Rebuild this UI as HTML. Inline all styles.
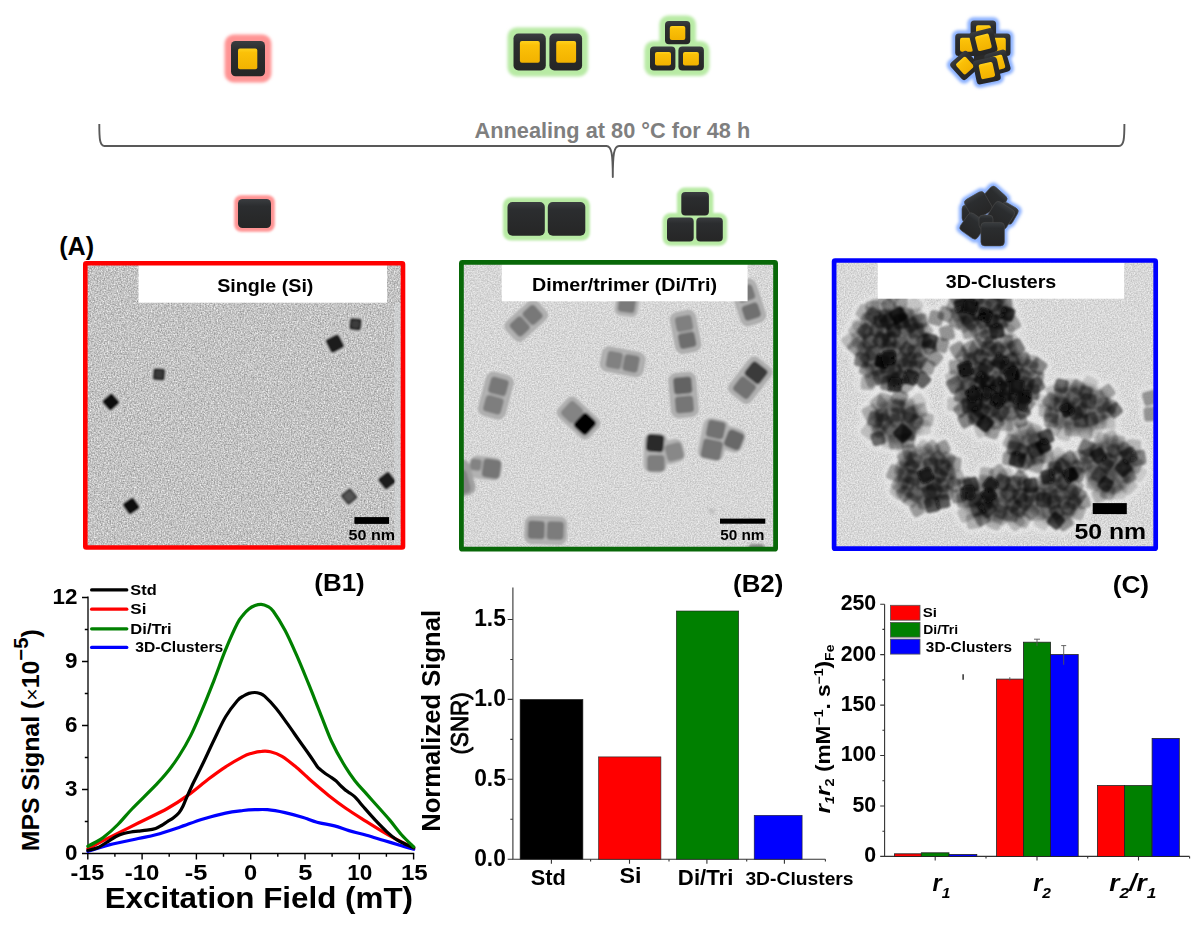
<!DOCTYPE html>
<html><head><meta charset="utf-8"><title>Figure</title>
<style>
html,body{margin:0;padding:0;background:#fff;}
svg{display:block;}
text{font-family:"Liberation Sans",sans-serif;}
</style></head><body>
<svg width="1204" height="927" viewBox="0 0 1204 927">
<defs>
<linearGradient id="gd" x1="0" y1="0" x2="0" y2="1"><stop offset="0" stop-color="#3a3d40"/><stop offset="0.25" stop-color="#2b2d2f"/><stop offset="1" stop-color="#262626"/></linearGradient>
<linearGradient id="gy" x1="0" y1="0" x2="0" y2="1"><stop offset="0" stop-color="#ffd21e"/><stop offset="0.2" stop-color="#fbc108"/><stop offset="1" stop-color="#f2b200"/></linearGradient>
<filter id="b3" x="-40%" y="-40%" width="180%" height="180%"><feGaussianBlur stdDeviation="2.6"/></filter>
<filter id="b2" x="-40%" y="-40%" width="180%" height="180%"><feGaussianBlur stdDeviation="1.8"/></filter>
<filter id="b06" x="-20%" y="-20%" width="140%" height="140%"><feGaussianBlur stdDeviation="0.95"/></filter>
<filter id="b05" x="-20%" y="-20%" width="140%" height="140%"><feGaussianBlur stdDeviation="0.5"/></filter>
<filter id="b07" x="-20%" y="-20%" width="140%" height="140%"><feGaussianBlur stdDeviation="0.8"/></filter>
<filter id="b13" x="-40%" y="-40%" width="180%" height="180%"><feGaussianBlur stdDeviation="1.3"/></filter>
<filter id="b12" x="-20%" y="-20%" width="140%" height="140%"><feGaussianBlur stdDeviation="1.3"/></filter>
<filter id="b25" x="-30%" y="-30%" width="160%" height="160%"><feGaussianBlur stdDeviation="2.5"/></filter>
<filter id="noise" x="0" y="0" width="100%" height="100%">
<feTurbulence type="fractalNoise" baseFrequency="0.75" numOctaves="2" seed="7" result="n"/>
<feColorMatrix in="n" type="matrix" values="0 0 0 0 0  0 0 0 0 0  0 0 0 0 0  1.6 0 0 0 -0.62"/>
</filter>
<filter id="noisew" x="0" y="0" width="100%" height="100%">
<feTurbulence type="fractalNoise" baseFrequency="0.75" numOctaves="2" seed="11" result="n"/>
<feColorMatrix in="n" type="matrix" values="0 0 0 0 1  0 0 0 0 1  0 0 0 0 1  0 1.6 0 0 -0.62"/>
</filter>
</defs>
<rect width="1204" height="927" fill="#fff"/>

<g filter="url(#b2)"><rect x="224.6" y="34.6" width="46.8" height="47.8" rx="9" fill="#ff9494" transform="rotate(0 248.0 58.5)"/></g>
<g transform="rotate(0 248.0 58.6)"><rect x="231.0" y="41.0" width="34.0" height="35.3" rx="4.5" fill="url(#gd)"/><rect x="238.0" y="48.4" width="19.3" height="20.9" rx="2" fill="url(#gy)"/></g>
<g filter="url(#b2)"><rect x="507.5" y="27.5" width="80.6" height="48.9" rx="9" fill="#b8eaa4" transform="rotate(0 547.8 52.0)"/></g>
<g transform="rotate(0 529.6 52.0)"><rect x="513.5" y="33.5" width="32.3" height="36.9" rx="5" fill="url(#gd)"/><rect x="519.9" y="40.9" width="19.9" height="21.9" rx="2" fill="url(#gy)"/></g>
<g transform="rotate(0 565.8 52.0)"><rect x="549.4" y="33.5" width="32.7" height="36.9" rx="5" fill="url(#gd)"/><rect x="556.2" y="40.9" width="19.9" height="21.9" rx="2" fill="url(#gy)"/></g>
<g filter="url(#b2)"><rect x="659.4" y="15.4" width="36.5" height="34.5" rx="9" fill="#b8eaa4" transform="rotate(0 677.6 32.6)"/><rect x="644.4" y="40.9" width="65.1" height="35.1" rx="9" fill="#b8eaa4" transform="rotate(0 677.0 58.5)"/></g>
<g transform="rotate(0 677.6 32.6)"><rect x="665.0" y="21.0" width="25.3" height="23.3" rx="4" fill="url(#gd)"/><rect x="669.8" y="26.0" width="15.5" height="13.9" rx="2" fill="url(#gy)"/></g>
<g transform="rotate(0 662.7 58.5)"><rect x="650.0" y="46.5" width="25.4" height="23.9" rx="4" fill="url(#gd)"/><rect x="655.0" y="51.9" width="16.0" height="13.5" rx="2" fill="url(#gy)"/></g>
<g transform="rotate(0 691.1 58.5)"><rect x="678.4" y="46.5" width="25.5" height="23.9" rx="4" fill="url(#gd)"/><rect x="683.0" y="51.9" width="15.9" height="13.5" rx="2" fill="url(#gy)"/></g>
<g filter="url(#b2)"><rect x="967.4" y="17.3" width="31.9" height="31.9" rx="6" fill="#8db2ff" transform="rotate(0 983.4 33.2)"/><rect x="952.0" y="30.3" width="28.9" height="28.9" rx="6" fill="#8db2ff" transform="rotate(0 966.5 44.8)"/><rect x="984.8" y="30.3" width="28.9" height="28.9" rx="6" fill="#8db2ff" transform="rotate(0 999.3 44.8)"/><rect x="967.9" y="26.8" width="30.9" height="30.9" rx="6" fill="#8db2ff" transform="rotate(-14 983.4 42.3)"/><rect x="950.3" y="51.0" width="28.9" height="28.9" rx="6" fill="#8db2ff" transform="rotate(-42 964.8 65.5)"/><rect x="983.0" y="48.3" width="28.9" height="28.9" rx="6" fill="#8db2ff" transform="rotate(-16 997.5 62.8)"/><rect x="971.4" y="55.1" width="30.9" height="30.9" rx="6" fill="#8db2ff" transform="rotate(-12 986.9 70.6)"/></g>
<g transform="rotate(0 983.4 33.2)"><rect x="970.6" y="20.5" width="25.5" height="25.5" rx="3.5" fill="url(#gd)"/><rect x="976.0" y="25.3" width="14.8" height="15.8" rx="2" fill="url(#gy)"/></g>
<g transform="rotate(0 966.5 44.8)"><rect x="955.2" y="33.5" width="22.5" height="22.5" rx="3.5" fill="url(#gd)"/><rect x="960.0" y="37.8" width="13.0" height="14.0" rx="2" fill="url(#gy)"/></g>
<g transform="rotate(0 999.3 44.8)"><rect x="988.0" y="33.5" width="22.5" height="22.5" rx="3.5" fill="url(#gd)"/><rect x="992.8" y="37.8" width="13.0" height="14.0" rx="2" fill="url(#gy)"/></g>
<rect x="974" y="46" width="20" height="18" fill="#2a2a2a"/>
<g transform="rotate(-14 983.4 42.3)"><rect x="971.1" y="30.0" width="24.5" height="24.5" rx="3.5" fill="url(#gd)"/><rect x="976.3" y="34.7" width="14.2" height="15.2" rx="2" fill="url(#gy)"/></g>
<g transform="rotate(-42 964.8 65.5)"><rect x="953.5" y="54.2" width="22.5" height="22.5" rx="3.5" fill="url(#gd)"/><rect x="958.3" y="58.5" width="13.0" height="14.1" rx="2" fill="url(#gy)"/></g>
<g transform="rotate(-16 997.5 62.8)"><rect x="986.2" y="51.5" width="22.5" height="22.5" rx="3.5" fill="url(#gd)"/><rect x="991.0" y="55.8" width="13.0" height="14.1" rx="2" fill="url(#gy)"/></g>
<g transform="rotate(-12 986.9 70.6)"><rect x="974.6" y="58.3" width="24.5" height="24.5" rx="3.5" fill="url(#gd)"/><rect x="979.8" y="63.0" width="14.2" height="15.2" rx="2" fill="url(#gy)"/></g>
<path d="M99.3 124 C99.3 138 99.6 146 104.5 146 L606.5 146 C611.6 146 612.8 154 612.8 177 C612.8 154 614 146 619 146 L1119 146 C1124 146 1124.4 138 1124.4 124" fill="none" stroke="#595959" stroke-width="1.9" stroke-linejoin="round"/>
<text x="474.56" y="137.7" font-size="22" font-weight="bold" fill="#7f7f7f" text-anchor="start" textLength="275.68" lengthAdjust="spacingAndGlyphs" >Annealing at 80 °C for 48 h</text>
<g filter="url(#b13)"><rect x="234.2" y="195.2" width="40.6" height="36.6" rx="7" fill="#ff9494" transform="rotate(0 254.5 213.5)"/></g>
<g transform="rotate(0 254.5 213.5)"><rect x="238.0" y="199.0" width="33.0" height="29.0" rx="4.5" fill="url(#gd)"/></g>
<g filter="url(#b13)"><rect x="502.9" y="197.4" width="87.0" height="43.2" rx="8" fill="#b8eaa4" transform="rotate(0 546.4 219.0)"/></g>
<g transform="rotate(0 526.1 218.9)"><rect x="507.5" y="202.0" width="37.3" height="33.8" rx="5" fill="url(#gd)"/></g>
<g transform="rotate(0 566.5 218.9)"><rect x="547.8" y="202.0" width="37.5" height="33.8" rx="5" fill="url(#gd)"/></g>
<g filter="url(#b13)"><rect x="676.9" y="187.6" width="36.4" height="32.2" rx="8" fill="#b8eaa4" transform="rotate(0 695.1 203.7)"/><rect x="662.6" y="213.0" width="64.6" height="32.8" rx="8" fill="#b8eaa4" transform="rotate(0 694.9 229.4)"/></g>
<g transform="rotate(0 695.1 203.7)"><rect x="681.3" y="192.0" width="27.6" height="23.4" rx="4" fill="url(#gd)"/></g>
<g transform="rotate(0 680.4 229.4)"><rect x="667.0" y="217.4" width="26.7" height="24.0" rx="4" fill="url(#gd)"/></g>
<g transform="rotate(0 709.5 229.4)"><rect x="696.3" y="217.4" width="26.5" height="24.0" rx="4" fill="url(#gd)"/></g>
<g filter="url(#b2)"><rect x="980.1" y="185.8" width="27.4" height="27.4" rx="6" fill="#8db2ff" transform="rotate(42 993.8 199.5)"/><rect x="958.8" y="201.8" width="23.4" height="23.4" rx="6" fill="#8db2ff" transform="rotate(0 970.5 213.5)"/><rect x="964.0" y="191.1" width="28.9" height="28.9" rx="6" fill="#8db2ff" transform="rotate(-30 978.5 205.5)"/><rect x="995.1" y="201.1" width="24.4" height="24.4" rx="6" fill="#8db2ff" transform="rotate(30 1007.3 213.3)"/><rect x="959.3" y="212.3" width="27.4" height="27.4" rx="6" fill="#8db2ff" transform="rotate(35 973.0 226.0)"/><rect x="986.1" y="201.1" width="28.9" height="28.9" rx="6" fill="#8db2ff" transform="rotate(32 1000.6 215.5)"/><rect x="975.8" y="211.8" width="20.4" height="20.4" rx="6" fill="#8db2ff" transform="rotate(0 986.0 222.0)"/><rect x="977.6" y="219.2" width="29.9" height="29.9" rx="6" fill="#8db2ff" transform="rotate(0 992.6 234.2)"/></g>
<g transform="rotate(42 993.8 199.5)"><rect x="983.3" y="189.0" width="21" height="21" rx="4" fill="url(#gd)" stroke="#4a4a4a" stroke-width="0.6"/></g>
<g transform="rotate(0 970.5 213.5)"><rect x="962.0" y="205.0" width="17" height="17" rx="4" fill="url(#gd)" stroke="#4a4a4a" stroke-width="0.6"/></g>
<g transform="rotate(-30 978.5 205.5)"><rect x="967.2" y="194.2" width="22.5" height="22.5" rx="4" fill="url(#gd)" stroke="#4a4a4a" stroke-width="0.6"/></g>
<g transform="rotate(30 1007.3 213.3)"><rect x="998.3" y="204.3" width="18" height="18" rx="4" fill="url(#gd)" stroke="#4a4a4a" stroke-width="0.6"/></g>
<g transform="rotate(35 973 226)"><rect x="962.5" y="215.5" width="21" height="21" rx="4" fill="url(#gd)" stroke="#4a4a4a" stroke-width="0.6"/></g>
<g transform="rotate(32 1000.6 215.5)"><rect x="989.4" y="204.2" width="22.5" height="22.5" rx="4" fill="url(#gd)" stroke="#4a4a4a" stroke-width="0.6"/></g>
<g transform="rotate(0 986 222)"><rect x="979.0" y="215.0" width="14" height="14" rx="4" fill="url(#gd)" stroke="#4a4a4a" stroke-width="0.6"/></g>
<g transform="rotate(0 992.6 234.2)"><rect x="980.9" y="222.4" width="23.5" height="23.5" rx="4" fill="url(#gd)" stroke="#4a4a4a" stroke-width="0.6"/></g>
<text x="59.25" y="255.4" font-size="25" font-weight="bold" fill="#000" text-anchor="start" textLength="34.9" lengthAdjust="spacingAndGlyphs" >(A)</text>
<defs>
<filter id="nz1" x="0" y="0" width="100%" height="100%" color-interpolation-filters="sRGB"><feTurbulence type="fractalNoise" baseFrequency="0.7" numOctaves="3" seed="3"/><feColorMatrix type="matrix" values="0.52 0 0 0 0.503  0.52 0 0 0 0.503  0.52 0 0 0 0.503  0 0 0 0 1"/></filter>
<filter id="nz2" x="0" y="0" width="100%" height="100%" color-interpolation-filters="sRGB"><feTurbulence type="fractalNoise" baseFrequency="0.7" numOctaves="3" seed="5"/><feColorMatrix type="matrix" values="0.28 0 0 0 0.70  0.28 0 0 0 0.70  0.28 0 0 0 0.70  0 0 0 0 1"/></filter>
<filter id="nz3" x="0" y="0" width="100%" height="100%" color-interpolation-filters="sRGB"><feTurbulence type="fractalNoise" baseFrequency="0.7" numOctaves="3" seed="9"/><feColorMatrix type="matrix" values="0.28 0 0 0 0.705  0.28 0 0 0 0.705  0.28 0 0 0 0.705  0 0 0 0 1"/></filter>
<clipPath id="c1"><rect x="87" y="265" width="314.5" height="281"/></clipPath>
<clipPath id="c2"><rect x="463" y="264" width="311" height="283.5"/></clipPath>
<clipPath id="c3"><rect x="836" y="262.5" width="318" height="284.5"/></clipPath>
</defs>
<rect x="87" y="265" width="314.5" height="281" fill="#c2c2c2" filter="url(#nz1)"/>
<g clip-path="url(#c1)">
<g filter="url(#b07)"><g transform="rotate(6 355.5 324.2)"><rect x="347.2" y="315.9" width="16.6" height="16.6" rx="4" fill="#d6d6d6" opacity="0.75"/><rect x="349.4" y="318.1" width="12.2" height="12.2" rx="2.6" fill="#262626"/><rect x="351.8" y="320.5" width="7.4" height="7.4" rx="2" fill="#3c3c3c"/></g><g transform="rotate(-27 334.9 343.6)"><rect x="325.1" y="333.8" width="19.6" height="19.6" rx="4" fill="#d6d6d6" opacity="0.75"/><rect x="327.3" y="336.0" width="15.2" height="15.2" rx="2.6" fill="#1c1c1c"/></g><g transform="rotate(4 159 374.4)"><rect x="150.6" y="366.0" width="16.8" height="16.8" rx="4" fill="#d6d6d6" opacity="0.75"/><rect x="152.8" y="368.2" width="12.4" height="12.4" rx="2.6" fill="#2a2a2a"/><rect x="155.2" y="370.6" width="7.6" height="7.6" rx="2" fill="#3a3a3a"/></g><g transform="rotate(-42 110.9 402)"><rect x="101.9" y="393.0" width="18.0" height="18.0" rx="4" fill="#d6d6d6" opacity="0.75"/><rect x="104.1" y="395.2" width="13.6" height="13.6" rx="2.6" fill="#101010"/></g><g transform="rotate(-35 131.2 506)"><rect x="122.2" y="497.0" width="18.0" height="18.0" rx="4" fill="#d6d6d6" opacity="0.75"/><rect x="124.4" y="499.2" width="13.6" height="13.6" rx="2.6" fill="#0e0e0e"/></g><g transform="rotate(-38 387 480.6)"><rect x="377.7" y="471.3" width="18.6" height="18.6" rx="4" fill="#d6d6d6" opacity="0.75"/><rect x="379.9" y="473.5" width="14.2" height="14.2" rx="2.6" fill="#1c1c1c"/></g><g transform="rotate(-40 349.2 496.6)"><rect x="340.3" y="487.7" width="17.8" height="17.8" rx="4" fill="#d6d6d6" opacity="0.75"/><rect x="342.5" y="489.9" width="13.4" height="13.4" rx="2.6" fill="#3a3a3a"/><rect x="344.9" y="492.3" width="8.6" height="8.6" rx="2" fill="#555"/></g></g>
</g>
<rect x="394.5" y="303" width="6.5" height="242.5" fill="#d5d8db" opacity="0.55"/>
<rect x="138.5" y="265" width="248.5" height="37.7" fill="#fff"/>
<text x="217.17" y="291.6" font-size="19" font-weight="bold" fill="#000" text-anchor="start" textLength="96.26" lengthAdjust="spacingAndGlyphs" >Single (Si)</text>
<rect x="354.4" y="517.1" width="34.6" height="6.8" fill="#000"/>
<text x="348.61" y="540.4" font-size="14.2" font-weight="bold" fill="#000" text-anchor="start" textLength="46.59" lengthAdjust="spacingAndGlyphs" >50 nm</text>
<rect x="85.3" y="263.3" width="317.7" height="284.2" fill="none" stroke="#ff0000" stroke-width="4.6" rx="1"/>
<rect x="463" y="264" width="311" height="283.5" fill="#d5d5d5" filter="url(#nz2)"/>
<g clip-path="url(#c2)">
<g filter="url(#b06)"><rect x="503.7" y="306.9" width="45.0" height="27.5" rx="8" fill="#e2e2e2" opacity="0.8" transform="rotate(-42.0 526.2 320.7)"/><rect x="505.2" y="308.4" width="42.0" height="24.5" rx="6.5" fill="#b2b2b2" opacity="1" transform="rotate(-42.0 526.2 320.7)" stroke="#8e8e8e" stroke-width="0.9"/><rect x="512.0" y="317.9" width="15.6" height="17.1" rx="3.6" fill="#787878" opacity="1" transform="rotate(-42.0 519.8 326.5)"/><rect x="524.8" y="306.4" width="15.6" height="17.1" rx="3.6" fill="#787878" opacity="1" transform="rotate(-42.0 532.6 314.9)"/><rect x="613.4" y="292.0" width="27.0" height="26.0" rx="8" fill="#e2e2e2" opacity="0.8" transform="rotate(8.0 626.9 305.0)"/><rect x="614.9" y="293.2" width="24.0" height="23.5" rx="6.5" fill="#b2b2b2" opacity="1" transform="rotate(8.0 626.9 305.0)"/><rect x="618.4" y="295.5" width="17.0" height="17.0" rx="3.5" fill="#7a7a7a" opacity="1" transform="rotate(8.0 626.9 304.0)"/><rect x="663.6" y="317.9" width="44.0" height="28.0" rx="8" fill="#e2e2e2" opacity="0.8" transform="rotate(79.0 685.6 331.9)"/><rect x="665.1" y="319.4" width="41.0" height="25.0" rx="6.5" fill="#b2b2b2" opacity="1" transform="rotate(79.0 685.6 331.9)" stroke="#8e8e8e" stroke-width="0.9"/><rect x="676.2" y="314.9" width="15.6" height="17.1" rx="3.6" fill="#808080" opacity="1" transform="rotate(79.0 684.0 323.5)"/><rect x="679.4" y="331.8" width="15.6" height="17.1" rx="3.6" fill="#6e6e6e" opacity="1" transform="rotate(79.0 687.2 340.3)"/><rect x="725.0" y="288.5" width="47.0" height="28.0" rx="8" fill="#e2e2e2" opacity="0.8" transform="rotate(72.0 748.5 302.5)"/><rect x="726.5" y="290.0" width="44.0" height="25.0" rx="6.5" fill="#b2b2b2" opacity="1" transform="rotate(72.0 748.5 302.5)" stroke="#8e8e8e" stroke-width="0.9"/><rect x="737.8" y="284.9" width="15.6" height="17.1" rx="3.6" fill="#787878" opacity="1" transform="rotate(72.0 745.6 293.5)"/><rect x="743.6" y="303.0" width="15.6" height="17.1" rx="3.6" fill="#707070" opacity="1" transform="rotate(72.0 751.4 311.5)"/><rect x="599.7" y="348.3" width="46.0" height="27.0" rx="8" fill="#e2e2e2" opacity="0.8" transform="rotate(11.0 622.7 361.8)"/><rect x="601.2" y="349.8" width="43.0" height="24.0" rx="6.5" fill="#b2b2b2" opacity="1" transform="rotate(11.0 622.7 361.8)" stroke="#8e8e8e" stroke-width="0.9"/><rect x="606.5" y="351.6" width="15.6" height="17.1" rx="3.6" fill="#818181" opacity="1" transform="rotate(11.0 614.3 360.2)"/><rect x="623.3" y="354.9" width="15.6" height="17.1" rx="3.6" fill="#7a7a7a" opacity="1" transform="rotate(11.0 631.1 363.4)"/><rect x="472.4" y="380.6" width="47.0" height="30.0" rx="8" fill="#e2e2e2" opacity="0.8" transform="rotate(-75.0 495.9 395.6)"/><rect x="473.9" y="382.1" width="44.0" height="27.0" rx="6.5" fill="#b2b2b2" opacity="1" transform="rotate(-75.0 495.9 395.6)" stroke="#8e8e8e" stroke-width="0.9"/><rect x="484.9" y="395.5" width="17.0" height="18.5" rx="3.6" fill="#7e7e7e" opacity="1" transform="rotate(-75.0 493.4 404.8)"/><rect x="489.9" y="377.2" width="17.0" height="18.5" rx="3.6" fill="#787878" opacity="1" transform="rotate(-75.0 498.4 386.4)"/><rect x="660.1" y="380.2" width="47.0" height="29.5" rx="8" fill="#e2e2e2" opacity="0.8" transform="rotate(85.0 683.6 395.0)"/><rect x="661.6" y="381.8" width="44.0" height="26.5" rx="6.5" fill="#b2b2b2" opacity="1" transform="rotate(85.0 683.6 395.0)" stroke="#8e8e8e" stroke-width="0.9"/><rect x="674.3" y="376.3" width="17.0" height="18.5" rx="3.6" fill="#646464" opacity="1" transform="rotate(85.0 682.8 385.5)"/><rect x="675.9" y="395.2" width="17.0" height="18.5" rx="3.6" fill="#767676" opacity="1" transform="rotate(85.0 684.4 404.5)"/><rect x="726.8" y="365.2" width="47.0" height="30.0" rx="8" fill="#e2e2e2" opacity="0.8" transform="rotate(-52.0 750.3 380.2)"/><rect x="728.3" y="366.7" width="44.0" height="27.0" rx="6.5" fill="#b2b2b2" opacity="1" transform="rotate(-52.0 750.3 380.2)" stroke="#8e8e8e" stroke-width="0.9"/><rect x="735.7" y="378.2" width="17.5" height="19.0" rx="3.6" fill="#727272" opacity="1" transform="rotate(-52.0 744.5 387.7)"/><rect x="747.4" y="363.2" width="17.5" height="19.0" rx="3.6" fill="#3a3a3a" opacity="1" transform="rotate(-52.0 756.1 372.7)"/><rect x="556.0" y="404.0" width="45.0" height="28.0" rx="8" fill="#e2e2e2" opacity="0.8" transform="rotate(43.0 578.5 418.0)"/><rect x="557.5" y="405.5" width="42.0" height="25.0" rx="6.5" fill="#b2b2b2" opacity="1" transform="rotate(43.0 578.5 418.0)" stroke="#8e8e8e" stroke-width="0.9"/><rect x="563.6" y="402.8" width="17.0" height="18.5" rx="3.6" fill="#848484" opacity="1" transform="rotate(43.0 572.1 412.0)"/><rect x="576.4" y="414.7" width="17.0" height="18.5" rx="3.6" fill="#050505" opacity="1" transform="rotate(43.0 584.9 424.0)"/><rect x="642.0" y="431.5" width="27.0" height="43.0" rx="9" fill="#e2e2e2" opacity="0.8" transform="rotate(2.0 655.5 453.0)"/><rect x="658.5" y="438.0" width="27.0" height="27.0" rx="9" fill="#e2e2e2" opacity="0.8" transform="rotate(-15.0 672.0 451.5)"/><rect x="643.5" y="433.0" width="24.0" height="40.0" rx="8" fill="#b2b2b2" opacity="1" transform="rotate(2.0 655.5 453.0)"/><rect x="660.5" y="439.5" width="24.0" height="24.0" rx="8" fill="#b2b2b2" opacity="1" transform="rotate(-15.0 672.5 451.5)"/><rect x="646.4" y="434.4" width="17.5" height="17.5" rx="4" fill="#2b2b2b" opacity="1" transform="rotate(5.0 655.1 443.1)"/><rect x="665.8" y="443.4" width="17.0" height="17.0" rx="4" fill="#888888" opacity="1" transform="rotate(-15.0 674.3 451.9)"/><rect x="647.1" y="454.9" width="17.5" height="16.5" rx="4" fill="#7e7e7e" opacity="1" transform="rotate(0.0 655.9 463.1)"/><rect x="698.5" y="417.0" width="30.0" height="45.0" rx="9" fill="#e2e2e2" opacity="0.8" transform="rotate(12.0 713.5 439.5)"/><rect x="718.5" y="425.5" width="27.0" height="28.0" rx="9" fill="#e2e2e2" opacity="0.8" transform="rotate(20.0 732.0 439.5)"/><rect x="700.0" y="418.5" width="27.0" height="42.0" rx="8" fill="#b2b2b2" opacity="1" transform="rotate(12.0 713.5 439.5)"/><rect x="720.5" y="427.0" width="24.0" height="25.0" rx="8" fill="#b2b2b2" opacity="1" transform="rotate(20.0 732.5 439.5)"/><rect x="706.8" y="420.8" width="18.0" height="17.5" rx="4" fill="#727272" opacity="1" transform="rotate(12.0 715.8 429.5)"/><rect x="725.6" y="430.9" width="17.0" height="18.0" rx="4" fill="#686868" opacity="1" transform="rotate(22.0 734.1 439.9)"/><rect x="701.8" y="439.8" width="20.0" height="19.5" rx="4" fill="#747474" opacity="1" transform="rotate(12.0 711.8 449.5)"/><rect x="467.6" y="455.0" width="36.0" height="26.0" rx="9" fill="#e2e2e2" opacity="0.8" transform="rotate(8.0 485.6 468.0)"/><rect x="469.1" y="456.2" width="33.0" height="23.5" rx="8" fill="#b2b2b2" opacity="1" transform="rotate(8.0 485.6 468.0)"/><rect x="469.9" y="458.9" width="11.5" height="11.5" rx="3" fill="#838383" opacity="1" transform="rotate(8.0 475.6 464.7)"/><rect x="482.5" y="459.1" width="18.0" height="19.0" rx="4" fill="#767676" opacity="1" transform="rotate(8.0 491.5 468.6)"/><rect x="451.0" y="460.0" width="22.0" height="36.0" rx="8" fill="#a0a0a0" opacity="1" transform="rotate(-15.0 462.0 478.0)"/><rect x="453.0" y="470.0" width="16.0" height="24.0" rx="5" fill="#838383" opacity="1" transform="rotate(-15.0 461.0 482.0)"/><rect x="523.5" y="515.3" width="44.5" height="30.0" rx="8" fill="#e2e2e2" opacity="0.8" transform="rotate(2.0 545.8 530.3)"/><rect x="525.0" y="516.8" width="41.5" height="27.0" rx="6.5" fill="#b2b2b2" opacity="1" transform="rotate(2.0 545.8 530.3)" stroke="#8e8e8e" stroke-width="0.9"/><rect x="527.8" y="520.7" width="17.0" height="18.5" rx="3.6" fill="#767676" opacity="1" transform="rotate(2.0 536.3 530.0)"/><rect x="546.8" y="521.4" width="17.0" height="18.5" rx="3.6" fill="#7c7c7c" opacity="1" transform="rotate(2.0 555.3 530.6)"/><rect x="748.5" y="544.0" width="16.0" height="10.0" rx="4" fill="#8a8a8a" opacity="1" transform="rotate(0.0 756.5 549.0)"/><rect x="708.3" y="509.0" width="7.0" height="4.0" rx="2" fill="#bdbdbd" opacity="1" transform="rotate(30.0 711.8 511.0)"/></g>
</g>
<rect x="501.8" y="264" width="245.8" height="37.3" fill="#fff"/>
<text x="531.97" y="290.9" font-size="19" font-weight="bold" fill="#000" text-anchor="start" textLength="185.06" lengthAdjust="spacingAndGlyphs" >Dimer/trimer (Di/Tri)</text>
<rect x="720" y="518.6" width="45.3" height="5.1" fill="#000"/>
<text x="720.18" y="539.9" font-size="14.6" font-weight="bold" fill="#000" text-anchor="start" textLength="44.34" lengthAdjust="spacingAndGlyphs" >50 nm</text>
<rect x="461.4" y="262.4" width="314.2" height="286.8" fill="none" stroke="#086808" stroke-width="4.8" rx="1"/>
<rect x="836" y="262.5" width="318" height="284.5" fill="#d6d6d6" filter="url(#nz3)"/>
<g clip-path="url(#c3)">
<g filter="url(#b25)" opacity="0.7"><rect x="1095.4" y="474.0" width="20.5" height="20.5" rx="6" fill="#ececec" opacity="1" transform="rotate(34.5 1105.7 484.2)"/><rect x="1057.0" y="410.1" width="20.0" height="20.0" rx="6" fill="#ececec" opacity="1" transform="rotate(38.4 1067.0 420.2)"/><rect x="1087.0" y="440.5" width="20.4" height="20.4" rx="6" fill="#ececec" opacity="1" transform="rotate(-12.0 1097.2 450.8)"/><rect x="1051.1" y="455.5" width="21.3" height="21.3" rx="6" fill="#ececec" opacity="1" transform="rotate(30.5 1061.7 466.2)"/><rect x="904.5" y="340.9" width="20.9" height="20.9" rx="6" fill="#ececec" opacity="1" transform="rotate(-14.9 914.9 351.3)"/><rect x="1111.7" y="466.0" width="20.5" height="20.5" rx="6" fill="#ececec" opacity="1" transform="rotate(-9.0 1122.0 476.3)"/><rect x="877.2" y="336.9" width="20.9" height="20.9" rx="6" fill="#ececec" opacity="1" transform="rotate(37.8 887.6 347.4)"/><rect x="921.3" y="494.1" width="21.8" height="21.8" rx="6" fill="#ececec" opacity="1" transform="rotate(-11.5 932.2 505.0)"/><rect x="1023.7" y="420.2" width="20.7" height="20.7" rx="6" fill="#ececec" opacity="1" transform="rotate(24.5 1034.0 430.6)"/><rect x="943.6" y="474.0" width="20.8" height="20.8" rx="6" fill="#ececec" opacity="1" transform="rotate(24.5 954.0 484.4)"/><rect x="1117.9" y="444.3" width="22.1" height="22.1" rx="6" fill="#ececec" opacity="1" transform="rotate(-23.5 1129.0 455.4)"/><rect x="1091.1" y="429.5" width="21.6" height="21.6" rx="6" fill="#ececec" opacity="1" transform="rotate(16.6 1101.9 440.3)"/><rect x="981.5" y="491.3" width="20.3" height="20.3" rx="6" fill="#ececec" opacity="1" transform="rotate(-25.1 991.7 501.4)"/><rect x="948.0" y="486.0" width="20.7" height="20.7" rx="6" fill="#ececec" opacity="1" transform="rotate(-7.0 958.3 496.4)"/><rect x="1021.3" y="491.2" width="20.5" height="20.5" rx="6" fill="#ececec" opacity="1" transform="rotate(3.5 1031.6 501.5)"/><rect x="1015.5" y="449.4" width="22.1" height="22.1" rx="6" fill="#ececec" opacity="1" transform="rotate(-34.7 1026.5 460.4)"/><rect x="1060.1" y="464.6" width="20.8" height="20.8" rx="6" fill="#ececec" opacity="1" transform="rotate(-29.8 1070.4 474.9)"/><rect x="900.5" y="489.7" width="20.1" height="20.1" rx="6" fill="#ececec" opacity="1" transform="rotate(22.8 910.5 499.7)"/><rect x="1053.9" y="423.1" width="21.0" height="21.0" rx="6" fill="#ececec" opacity="1" transform="rotate(15.1 1064.4 433.6)"/><rect x="891.4" y="458.2" width="20.7" height="20.7" rx="6" fill="#ececec" opacity="1" transform="rotate(14.5 901.8 468.5)"/><rect x="887.6" y="396.0" width="20.4" height="20.4" rx="6" fill="#ececec" opacity="1" transform="rotate(15.6 897.7 406.2)"/><rect x="1040.8" y="409.8" width="21.2" height="21.2" rx="6" fill="#ececec" opacity="1" transform="rotate(1.2 1051.4 420.4)"/><rect x="887.6" y="480.5" width="21.3" height="21.3" rx="6" fill="#ececec" opacity="1" transform="rotate(-44.8 898.3 491.2)"/><rect x="1002.2" y="472.4" width="22.5" height="22.5" rx="6" fill="#ececec" opacity="1" transform="rotate(-0.1 1013.5 483.6)"/><rect x="976.1" y="497.5" width="22.3" height="22.3" rx="6" fill="#ececec" opacity="1" transform="rotate(44.7 987.2 508.7)"/><rect x="997.7" y="320.5" width="20.1" height="20.1" rx="6" fill="#ececec" opacity="1" transform="rotate(14.6 1007.8 330.6)"/><rect x="1002.9" y="419.3" width="20.5" height="20.5" rx="6" fill="#ececec" opacity="1" transform="rotate(4.1 1013.1 429.5)"/><rect x="1016.6" y="373.5" width="20.8" height="20.8" rx="6" fill="#ececec" opacity="1" transform="rotate(11.5 1027.0 383.8)"/><rect x="929.3" y="465.4" width="20.5" height="20.5" rx="6" fill="#ececec" opacity="1" transform="rotate(35.5 939.5 475.6)"/><rect x="1005.0" y="385.7" width="21.5" height="21.5" rx="6" fill="#ececec" opacity="1" transform="rotate(25.3 1015.7 396.5)"/><rect x="1095.5" y="454.7" width="20.3" height="20.3" rx="6" fill="#ececec" opacity="1" transform="rotate(36.8 1105.7 464.8)"/><rect x="1001.0" y="312.6" width="22.1" height="22.1" rx="6" fill="#ececec" opacity="1" transform="rotate(-31.0 1012.1 323.7)"/><rect x="1031.3" y="391.0" width="20.0" height="20.0" rx="6" fill="#ececec" opacity="1" transform="rotate(13.6 1041.3 401.0)"/><rect x="1032.9" y="488.9" width="22.1" height="22.1" rx="6" fill="#ececec" opacity="1" transform="rotate(5.0 1044.0 500.0)"/><rect x="997.3" y="303.6" width="20.6" height="20.6" rx="6" fill="#ececec" opacity="1" transform="rotate(18.6 1007.6 313.9)"/><rect x="885.2" y="431.4" width="21.5" height="21.5" rx="6" fill="#ececec" opacity="1" transform="rotate(-5.7 896.0 442.1)"/><rect x="1057.2" y="396.3" width="20.4" height="20.4" rx="6" fill="#ececec" opacity="1" transform="rotate(27.2 1067.4 406.5)"/><rect x="938.0" y="449.2" width="20.4" height="20.4" rx="6" fill="#ececec" opacity="1" transform="rotate(25.3 948.2 459.4)"/><rect x="883.0" y="319.6" width="21.3" height="21.3" rx="6" fill="#ececec" opacity="1" transform="rotate(-3.2 893.6 330.2)"/><rect x="1100.5" y="427.3" width="20.4" height="20.4" rx="6" fill="#ececec" opacity="1" transform="rotate(-21.0 1110.7 437.5)"/><rect x="932.7" y="437.5" width="20.3" height="20.3" rx="6" fill="#ececec" opacity="1" transform="rotate(-27.3 942.9 447.6)"/><rect x="966.1" y="288.7" width="20.4" height="20.4" rx="6" fill="#ececec" opacity="1" transform="rotate(-14.2 976.3 298.9)"/><rect x="1043.9" y="491.7" width="20.6" height="20.6" rx="6" fill="#ececec" opacity="1" transform="rotate(-10.8 1054.2 502.0)"/><rect x="984.5" y="345.8" width="22.4" height="22.4" rx="6" fill="#ececec" opacity="1" transform="rotate(-1.6 995.7 357.0)"/><rect x="963.3" y="364.0" width="20.2" height="20.2" rx="6" fill="#ececec" opacity="1" transform="rotate(8.1 973.4 374.0)"/><rect x="1014.1" y="473.3" width="20.5" height="20.5" rx="6" fill="#ececec" opacity="1" transform="rotate(26.1 1024.3 483.6)"/><rect x="950.9" y="385.1" width="21.1" height="21.1" rx="6" fill="#ececec" opacity="1" transform="rotate(12.4 961.4 395.7)"/><rect x="959.4" y="310.3" width="22.4" height="22.4" rx="6" fill="#ececec" opacity="1" transform="rotate(42.5 970.6 321.5)"/><rect x="857.0" y="309.7" width="22.3" height="22.3" rx="6" fill="#ececec" opacity="1" transform="rotate(11.6 868.2 320.9)"/><rect x="1068.5" y="394.4" width="22.0" height="22.0" rx="6" fill="#ececec" opacity="1" transform="rotate(6.0 1079.5 405.4)"/><rect x="969.5" y="359.1" width="21.8" height="21.8" rx="6" fill="#ececec" opacity="1" transform="rotate(22.2 980.4 370.0)"/><rect x="1010.5" y="410.7" width="20.2" height="20.2" rx="6" fill="#ececec" opacity="1" transform="rotate(-12.9 1020.5 420.8)"/><rect x="995.4" y="412.8" width="21.8" height="21.8" rx="6" fill="#ececec" opacity="1" transform="rotate(6.7 1006.3 423.7)"/><rect x="923.1" y="473.0" width="21.3" height="21.3" rx="6" fill="#ececec" opacity="1" transform="rotate(8.0 933.7 483.6)"/><rect x="1051.2" y="384.3" width="22.1" height="22.1" rx="6" fill="#ececec" opacity="1" transform="rotate(-2.9 1062.3 395.3)"/><rect x="896.9" y="339.2" width="20.2" height="20.2" rx="6" fill="#ececec" opacity="1" transform="rotate(37.8 907.0 349.3)"/><rect x="994.8" y="368.2" width="22.1" height="22.1" rx="6" fill="#ececec" opacity="1" transform="rotate(11.8 1005.8 379.3)"/><rect x="871.7" y="350.9" width="20.8" height="20.8" rx="6" fill="#ececec" opacity="1" transform="rotate(16.0 882.1 361.3)"/><rect x="878.4" y="328.7" width="21.6" height="21.6" rx="6" fill="#ececec" opacity="1" transform="rotate(-6.1 889.2 339.5)"/><rect x="930.9" y="456.1" width="22.4" height="22.4" rx="6" fill="#ececec" opacity="1" transform="rotate(10.8 942.1 467.3)"/><rect x="1075.8" y="421.8" width="20.7" height="20.7" rx="6" fill="#ececec" opacity="1" transform="rotate(11.8 1086.1 432.1)"/><rect x="854.6" y="337.1" width="20.9" height="20.9" rx="6" fill="#ececec" opacity="1" transform="rotate(41.0 865.1 347.5)"/><rect x="874.0" y="321.7" width="21.2" height="21.2" rx="6" fill="#ececec" opacity="1" transform="rotate(42.5 884.6 332.3)"/><rect x="981.1" y="332.2" width="20.8" height="20.8" rx="6" fill="#ececec" opacity="1" transform="rotate(-3.5 991.5 342.6)"/><rect x="985.7" y="356.1" width="20.1" height="20.1" rx="6" fill="#ececec" opacity="1" transform="rotate(6.0 995.8 366.2)"/><rect x="1123.0" y="453.8" width="22.4" height="22.4" rx="6" fill="#ececec" opacity="1" transform="rotate(20.0 1134.2 465.0)"/><rect x="1085.4" y="386.7" width="21.3" height="21.3" rx="6" fill="#ececec" opacity="1" transform="rotate(-1.4 1096.0 397.3)"/><rect x="1066.4" y="484.2" width="22.4" height="22.4" rx="6" fill="#ececec" opacity="1" transform="rotate(32.0 1077.6 495.4)"/><rect x="999.8" y="402.4" width="21.8" height="21.8" rx="6" fill="#ececec" opacity="1" transform="rotate(-36.9 1010.7 413.3)"/><rect x="1073.7" y="492.1" width="20.1" height="20.1" rx="6" fill="#ececec" opacity="1" transform="rotate(-16.7 1083.8 502.2)"/><rect x="1028.9" y="484.1" width="20.2" height="20.2" rx="6" fill="#ececec" opacity="1" transform="rotate(26.8 1039.0 494.1)"/><rect x="1059.9" y="481.6" width="22.0" height="22.0" rx="6" fill="#ececec" opacity="1" transform="rotate(-23.5 1070.9 492.7)"/><rect x="988.0" y="339.1" width="20.2" height="20.2" rx="6" fill="#ececec" opacity="1" transform="rotate(-42.0 998.1 349.2)"/><rect x="959.8" y="349.4" width="20.4" height="20.4" rx="6" fill="#ececec" opacity="1" transform="rotate(-13.7 970.0 359.6)"/><rect x="1019.7" y="484.3" width="21.8" height="21.8" rx="6" fill="#ececec" opacity="1" transform="rotate(-9.6 1030.5 495.2)"/><rect x="987.4" y="462.2" width="22.3" height="22.3" rx="6" fill="#ececec" opacity="1" transform="rotate(-36.4 998.5 473.4)"/><rect x="943.7" y="393.5" width="21.2" height="21.2" rx="6" fill="#ececec" opacity="1" transform="rotate(2.0 954.3 404.1)"/><rect x="953.1" y="345.8" width="21.6" height="21.6" rx="6" fill="#ececec" opacity="1" transform="rotate(36.9 963.9 356.6)"/><rect x="1086.4" y="404.0" width="22.0" height="22.0" rx="6" fill="#ececec" opacity="1" transform="rotate(-30.9 1097.4 415.0)"/><rect x="915.1" y="320.1" width="20.2" height="20.2" rx="6" fill="#ececec" opacity="1" transform="rotate(-36.9 925.2 330.2)"/><rect x="1025.5" y="374.4" width="21.8" height="21.8" rx="6" fill="#ececec" opacity="1" transform="rotate(-30.9 1036.4 385.3)"/><rect x="953.7" y="313.1" width="21.7" height="21.7" rx="6" fill="#ececec" opacity="1" transform="rotate(-40.9 964.5 324.0)"/><rect x="908.3" y="349.8" width="21.0" height="21.0" rx="6" fill="#ececec" opacity="1" transform="rotate(32.8 918.8 360.3)"/><rect x="845.6" y="336.0" width="22.1" height="22.1" rx="6" fill="#ececec" opacity="1" transform="rotate(43.6 856.7 347.0)"/><rect x="1058.6" y="448.3" width="21.4" height="21.4" rx="6" fill="#ececec" opacity="1" transform="rotate(-35.2 1069.3 459.1)"/><rect x="1033.0" y="435.8" width="20.6" height="20.6" rx="6" fill="#ececec" opacity="1" transform="rotate(-28.1 1043.2 446.1)"/><rect x="998.1" y="481.9" width="22.4" height="22.4" rx="6" fill="#ececec" opacity="1" transform="rotate(-44.9 1009.3 493.1)"/><rect x="901.4" y="456.1" width="20.0" height="20.0" rx="6" fill="#ececec" opacity="1" transform="rotate(41.0 911.4 466.1)"/><rect x="918.9" y="336.7" width="20.8" height="20.8" rx="6" fill="#ececec" opacity="1" transform="rotate(-20.2 929.3 347.1)"/><rect x="905.2" y="356.9" width="20.3" height="20.3" rx="6" fill="#ececec" opacity="1" transform="rotate(2.8 915.4 367.1)"/><rect x="977.5" y="337.8" width="22.0" height="22.0" rx="6" fill="#ececec" opacity="1" transform="rotate(8.6 988.4 348.8)"/><rect x="989.6" y="350.6" width="21.6" height="21.6" rx="6" fill="#ececec" opacity="1" transform="rotate(29.2 1000.4 361.4)"/><rect x="974.3" y="412.7" width="21.6" height="21.6" rx="6" fill="#ececec" opacity="1" transform="rotate(40.1 985.1 423.5)"/><rect x="889.8" y="291.7" width="20.9" height="20.9" rx="6" fill="#ececec" opacity="1" transform="rotate(12.1 900.3 302.1)"/><rect x="1077.6" y="390.1" width="22.0" height="22.0" rx="6" fill="#ececec" opacity="1" transform="rotate(9.0 1088.6 401.1)"/><rect x="985.1" y="369.2" width="20.5" height="20.5" rx="6" fill="#ececec" opacity="1" transform="rotate(-42.0 995.4 379.4)"/><rect x="913.9" y="491.6" width="20.9" height="20.9" rx="6" fill="#ececec" opacity="1" transform="rotate(-10.3 924.3 502.0)"/><rect x="894.4" y="374.8" width="21.4" height="21.4" rx="6" fill="#ececec" opacity="1" transform="rotate(-33.7 905.1 385.5)"/><rect x="943.9" y="373.5" width="22.5" height="22.5" rx="6" fill="#ececec" opacity="1" transform="rotate(-30.2 955.2 384.7)"/><rect x="989.6" y="484.7" width="21.0" height="21.0" rx="6" fill="#ececec" opacity="1" transform="rotate(5.3 1000.1 495.2)"/><rect x="1016.9" y="431.7" width="21.7" height="21.7" rx="6" fill="#ececec" opacity="1" transform="rotate(-44.0 1027.7 442.6)"/><rect x="1063.6" y="492.1" width="20.4" height="20.4" rx="6" fill="#ececec" opacity="1" transform="rotate(38.7 1073.7 502.2)"/><rect x="1072.7" y="399.9" width="21.1" height="21.1" rx="6" fill="#ececec" opacity="1" transform="rotate(27.7 1083.2 410.4)"/><rect x="972.7" y="327.4" width="22.4" height="22.4" rx="6" fill="#ececec" opacity="1" transform="rotate(-27.7 983.9 338.6)"/><rect x="899.0" y="441.0" width="20.9" height="20.9" rx="6" fill="#ececec" opacity="1" transform="rotate(-14.8 909.4 451.4)"/><rect x="960.0" y="473.9" width="21.9" height="21.9" rx="6" fill="#ececec" opacity="1" transform="rotate(-12.4 971.0 484.8)"/><rect x="964.9" y="489.9" width="21.2" height="21.2" rx="6" fill="#ececec" opacity="1" transform="rotate(1.1 975.5 500.5)"/><rect x="903.1" y="449.4" width="21.7" height="21.7" rx="6" fill="#ececec" opacity="1" transform="rotate(21.5 913.9 460.2)"/><rect x="906.1" y="411.7" width="20.0" height="20.0" rx="6" fill="#ececec" opacity="1" transform="rotate(29.9 916.1 421.7)"/><rect x="906.0" y="305.3" width="20.6" height="20.6" rx="6" fill="#ececec" opacity="1" transform="rotate(-20.1 916.3 315.6)"/><rect x="877.5" y="372.6" width="21.9" height="21.9" rx="6" fill="#ececec" opacity="1" transform="rotate(13.2 888.5 383.5)"/><rect x="1118.7" y="466.0" width="20.2" height="20.2" rx="6" fill="#ececec" opacity="1" transform="rotate(-23.2 1128.8 476.1)"/><rect x="1043.2" y="381.2" width="21.8" height="21.8" rx="6" fill="#ececec" opacity="1" transform="rotate(-22.8 1054.1 392.1)"/><rect x="1020.9" y="381.1" width="22.2" height="22.2" rx="6" fill="#ececec" opacity="1" transform="rotate(5.0 1032.0 392.2)"/><rect x="1000.5" y="349.8" width="21.5" height="21.5" rx="6" fill="#ececec" opacity="1" transform="rotate(-27.3 1011.3 360.5)"/><rect x="1025.1" y="367.3" width="22.1" height="22.1" rx="6" fill="#ececec" opacity="1" transform="rotate(10.6 1036.2 378.4)"/><rect x="908.9" y="400.0" width="21.4" height="21.4" rx="6" fill="#ececec" opacity="1" transform="rotate(-12.7 919.7 410.8)"/><rect x="870.4" y="329.3" width="21.6" height="21.6" rx="6" fill="#ececec" opacity="1" transform="rotate(32.7 881.1 340.0)"/><rect x="862.2" y="304.7" width="21.5" height="21.5" rx="6" fill="#ececec" opacity="1" transform="rotate(36.4 873.0 315.4)"/><rect x="858.7" y="419.8" width="22.4" height="22.4" rx="6" fill="#ececec" opacity="1" transform="rotate(39.1 869.9 431.0)"/><rect x="989.9" y="506.8" width="21.2" height="21.2" rx="6" fill="#ececec" opacity="1" transform="rotate(25.1 1000.5 517.4)"/><rect x="976.2" y="390.2" width="22.2" height="22.2" rx="6" fill="#ececec" opacity="1" transform="rotate(11.4 987.3 401.3)"/><rect x="1088.6" y="464.8" width="21.1" height="21.1" rx="6" fill="#ececec" opacity="1" transform="rotate(33.1 1099.1 475.3)"/><rect x="883.4" y="338.3" width="21.6" height="21.6" rx="6" fill="#ececec" opacity="1" transform="rotate(-22.7 894.2 349.0)"/><rect x="879.7" y="418.7" width="20.3" height="20.3" rx="6" fill="#ececec" opacity="1" transform="rotate(42.3 889.8 428.8)"/><rect x="898.4" y="408.8" width="20.4" height="20.4" rx="6" fill="#ececec" opacity="1" transform="rotate(12.6 908.6 419.0)"/><rect x="1069.1" y="446.8" width="20.8" height="20.8" rx="6" fill="#ececec" opacity="1" transform="rotate(-12.7 1079.5 457.2)"/><rect x="1096.0" y="399.0" width="22.2" height="22.2" rx="6" fill="#ececec" opacity="1" transform="rotate(-32.4 1107.1 410.2)"/><rect x="931.9" y="475.2" width="20.6" height="20.6" rx="6" fill="#ececec" opacity="1" transform="rotate(10.7 942.2 485.4)"/><rect x="1050.3" y="393.5" width="21.8" height="21.8" rx="6" fill="#ececec" opacity="1" transform="rotate(-2.7 1061.2 404.4)"/><rect x="993.1" y="386.4" width="20.9" height="20.9" rx="6" fill="#ececec" opacity="1" transform="rotate(-31.3 1003.6 396.9)"/><rect x="943.7" y="294.0" width="22.3" height="22.3" rx="6" fill="#ececec" opacity="1" transform="rotate(23.2 954.8 305.1)"/><rect x="899.8" y="366.6" width="21.6" height="21.6" rx="6" fill="#ececec" opacity="1" transform="rotate(17.4 910.6 377.4)"/><rect x="987.9" y="374.6" width="21.8" height="21.8" rx="6" fill="#ececec" opacity="1" transform="rotate(-44.5 998.8 385.5)"/><rect x="874.6" y="287.2" width="21.6" height="21.6" rx="6" fill="#ececec" opacity="1" transform="rotate(7.5 885.3 298.0)"/><rect x="1099.2" y="450.1" width="20.4" height="20.4" rx="6" fill="#ececec" opacity="1" transform="rotate(25.6 1109.4 460.3)"/><rect x="947.7" y="303.0" width="21.3" height="21.3" rx="6" fill="#ececec" opacity="1" transform="rotate(-22.7 958.4 313.7)"/><rect x="987.5" y="390.7" width="20.2" height="20.2" rx="6" fill="#ececec" opacity="1" transform="rotate(33.3 997.6 400.8)"/><rect x="878.4" y="295.4" width="20.4" height="20.4" rx="6" fill="#ececec" opacity="1" transform="rotate(-35.9 888.6 305.6)"/><rect x="1076.5" y="445.5" width="21.6" height="21.6" rx="6" fill="#ececec" opacity="1" transform="rotate(-22.4 1087.3 456.3)"/><rect x="926.9" y="448.7" width="21.9" height="21.9" rx="6" fill="#ececec" opacity="1" transform="rotate(-41.1 937.8 459.6)"/><rect x="995.4" y="390.3" width="21.1" height="21.1" rx="6" fill="#ececec" opacity="1" transform="rotate(22.0 1006.0 400.8)"/><rect x="859.0" y="330.1" width="21.9" height="21.9" rx="6" fill="#ececec" opacity="1" transform="rotate(-0.2 870.0 341.0)"/><rect x="896.5" y="395.1" width="21.7" height="21.7" rx="6" fill="#ececec" opacity="1" transform="rotate(-3.8 907.3 406.0)"/><rect x="953.2" y="489.2" width="21.8" height="21.8" rx="6" fill="#ececec" opacity="1" transform="rotate(-5.7 964.0 500.1)"/><rect x="983.8" y="511.2" width="21.7" height="21.7" rx="6" fill="#ececec" opacity="1" transform="rotate(18.8 994.7 522.0)"/><rect x="1001.2" y="363.6" width="21.6" height="21.6" rx="6" fill="#ececec" opacity="1" transform="rotate(-18.5 1012.0 374.4)"/><rect x="1020.1" y="474.6" width="21.6" height="21.6" rx="6" fill="#ececec" opacity="1" transform="rotate(-8.8 1030.9 485.5)"/><rect x="920.1" y="454.1" width="21.3" height="21.3" rx="6" fill="#ececec" opacity="1" transform="rotate(-6.4 930.8 464.7)"/><rect x="898.4" y="473.3" width="20.1" height="20.1" rx="6" fill="#ececec" opacity="1" transform="rotate(10.3 908.5 483.4)"/><rect x="1014.1" y="386.7" width="20.7" height="20.7" rx="6" fill="#ececec" opacity="1" transform="rotate(-0.5 1024.5 397.1)"/><rect x="889.9" y="332.7" width="20.1" height="20.1" rx="6" fill="#ececec" opacity="1" transform="rotate(18.9 900.0 342.8)"/><rect x="884.2" y="360.3" width="20.7" height="20.7" rx="6" fill="#ececec" opacity="1" transform="rotate(0.5 894.5 370.6)"/><rect x="846.4" y="319.4" width="21.8" height="21.8" rx="6" fill="#ececec" opacity="1" transform="rotate(42.8 857.3 330.3)"/><rect x="909.0" y="457.3" width="21.1" height="21.1" rx="6" fill="#ececec" opacity="1" transform="rotate(5.7 919.6 467.9)"/><rect x="950.8" y="295.5" width="20.7" height="20.7" rx="6" fill="#ececec" opacity="1" transform="rotate(-12.0 961.1 305.8)"/><rect x="1067.1" y="377.0" width="20.9" height="20.9" rx="6" fill="#ececec" opacity="1" transform="rotate(31.2 1077.6 387.5)"/><rect x="1002.4" y="493.8" width="21.2" height="21.2" rx="6" fill="#ececec" opacity="1" transform="rotate(-40.1 1013.0 504.4)"/><rect x="867.9" y="392.4" width="21.4" height="21.4" rx="6" fill="#ececec" opacity="1" transform="rotate(-40.5 878.6 403.1)"/><rect x="981.0" y="399.4" width="20.9" height="20.9" rx="6" fill="#ececec" opacity="1" transform="rotate(-42.5 991.4 409.9)"/><rect x="859.5" y="401.9" width="22.0" height="22.0" rx="6" fill="#ececec" opacity="1" transform="rotate(-27.0 870.5 412.9)"/><rect x="878.6" y="431.9" width="20.1" height="20.1" rx="6" fill="#ececec" opacity="1" transform="rotate(5.8 888.6 442.0)"/><rect x="1006.6" y="358.5" width="20.0" height="20.0" rx="6" fill="#ececec" opacity="1" transform="rotate(27.1 1016.6 368.6)"/><rect x="958.8" y="320.4" width="21.7" height="21.7" rx="6" fill="#ececec" opacity="1" transform="rotate(-8.5 969.7 331.3)"/><rect x="1097.2" y="411.4" width="21.7" height="21.7" rx="6" fill="#ececec" opacity="1" transform="rotate(-3.4 1108.0 422.2)"/><rect x="894.7" y="448.0" width="22.1" height="22.1" rx="6" fill="#ececec" opacity="1" transform="rotate(-19.7 905.7 459.0)"/><rect x="956.4" y="305.1" width="22.2" height="22.2" rx="6" fill="#ececec" opacity="1" transform="rotate(-26.8 967.5 316.2)"/><rect x="1085.7" y="421.9" width="20.0" height="20.0" rx="6" fill="#ececec" opacity="1" transform="rotate(23.9 1095.7 431.9)"/><rect x="1025.0" y="454.2" width="21.7" height="21.7" rx="6" fill="#ececec" opacity="1" transform="rotate(18.8 1035.9 465.1)"/><rect x="1049.3" y="482.4" width="22.5" height="22.5" rx="6" fill="#ececec" opacity="1" transform="rotate(-39.1 1060.5 493.6)"/><rect x="1012.0" y="509.1" width="21.5" height="21.5" rx="6" fill="#ececec" opacity="1" transform="rotate(27.3 1022.7 519.9)"/><rect x="964.8" y="485.8" width="21.3" height="21.3" rx="6" fill="#ececec" opacity="1" transform="rotate(44.0 975.5 496.5)"/><rect x="1053.9" y="492.6" width="20.1" height="20.1" rx="6" fill="#ececec" opacity="1" transform="rotate(3.3 1063.9 502.7)"/><rect x="934.9" y="481.7" width="21.4" height="21.4" rx="6" fill="#ececec" opacity="1" transform="rotate(4.4 945.6 492.4)"/><rect x="873.8" y="390.0" width="21.5" height="21.5" rx="6" fill="#ececec" opacity="1" transform="rotate(14.2 884.6 400.7)"/><rect x="971.2" y="418.4" width="21.9" height="21.9" rx="6" fill="#ececec" opacity="1" transform="rotate(-19.2 982.1 429.4)"/><rect x="989.1" y="400.7" width="22.4" height="22.4" rx="6" fill="#ececec" opacity="1" transform="rotate(36.9 1000.3 411.9)"/><rect x="1051.1" y="375.6" width="20.5" height="20.5" rx="6" fill="#ececec" opacity="1" transform="rotate(13.9 1061.4 385.9)"/><rect x="1075.7" y="382.8" width="20.1" height="20.1" rx="6" fill="#ececec" opacity="1" transform="rotate(9.9 1085.8 392.8)"/><rect x="897.8" y="422.1" width="21.6" height="21.6" rx="6" fill="#ececec" opacity="1" transform="rotate(11.5 908.5 432.8)"/><rect x="1004.7" y="336.2" width="22.4" height="22.4" rx="6" fill="#ececec" opacity="1" transform="rotate(-29.4 1015.9 347.4)"/><rect x="853.5" y="301.7" width="21.4" height="21.4" rx="6" fill="#ececec" opacity="1" transform="rotate(30.1 864.2 312.4)"/><rect x="989.5" y="493.3" width="22.1" height="22.1" rx="6" fill="#ececec" opacity="1" transform="rotate(-25.6 1000.6 504.4)"/><rect x="1078.7" y="373.2" width="21.6" height="21.6" rx="6" fill="#ececec" opacity="1" transform="rotate(29.6 1089.5 384.0)"/><rect x="967.9" y="320.4" width="22.1" height="22.1" rx="6" fill="#ececec" opacity="1" transform="rotate(-44.8 979.0 331.4)"/><rect x="1107.8" y="431.8" width="20.5" height="20.5" rx="6" fill="#ececec" opacity="1" transform="rotate(11.2 1118.0 442.0)"/><rect x="888.4" y="367.1" width="22.3" height="22.3" rx="6" fill="#ececec" opacity="1" transform="rotate(-27.7 899.5 378.2)"/><rect x="895.2" y="304.5" width="21.7" height="21.7" rx="6" fill="#ececec" opacity="1" transform="rotate(2.8 906.0 315.3)"/><rect x="945.8" y="286.2" width="20.6" height="20.6" rx="6" fill="#ececec" opacity="1" transform="rotate(-28.8 956.1 296.5)"/><rect x="1000.5" y="431.3" width="21.3" height="21.3" rx="6" fill="#ececec" opacity="1" transform="rotate(28.5 1011.1 441.9)"/><rect x="1088.0" y="444.9" width="21.0" height="21.0" rx="6" fill="#ececec" opacity="1" transform="rotate(-31.9 1098.5 455.4)"/><rect x="966.9" y="373.6" width="20.7" height="20.7" rx="6" fill="#ececec" opacity="1" transform="rotate(34.7 977.2 383.9)"/><rect x="963.0" y="383.4" width="21.0" height="21.0" rx="6" fill="#ececec" opacity="1" transform="rotate(-37.3 973.5 393.9)"/><rect x="888.1" y="404.0" width="21.0" height="21.0" rx="6" fill="#ececec" opacity="1" transform="rotate(1.9 898.6 414.5)"/><rect x="986.0" y="320.4" width="21.5" height="21.5" rx="6" fill="#ececec" opacity="1" transform="rotate(-12.5 996.7 331.1)"/><rect x="990.6" y="501.6" width="20.0" height="20.0" rx="6" fill="#ececec" opacity="1" transform="rotate(25.3 1000.6 511.6)"/><rect x="958.0" y="282.4" width="22.2" height="22.2" rx="6" fill="#ececec" opacity="1" transform="rotate(20.7 969.1 293.5)"/><rect x="900.9" y="314.6" width="20.8" height="20.8" rx="6" fill="#ececec" opacity="1" transform="rotate(-25.6 911.3 324.9)"/><rect x="1097.4" y="482.2" width="20.8" height="20.8" rx="6" fill="#ececec" opacity="1" transform="rotate(14.6 1107.8 492.6)"/><rect x="897.7" y="430.5" width="20.9" height="20.9" rx="6" fill="#ececec" opacity="1" transform="rotate(8.5 908.2 441.0)"/><rect x="989.4" y="310.8" width="21.5" height="21.5" rx="6" fill="#ececec" opacity="1" transform="rotate(-9.5 1000.1 321.5)"/><rect x="1021.5" y="351.6" width="20.1" height="20.1" rx="6" fill="#ececec" opacity="1" transform="rotate(5.6 1031.6 361.7)"/><rect x="881.2" y="404.3" width="22.0" height="22.0" rx="6" fill="#ececec" opacity="1" transform="rotate(-3.6 892.2 415.2)"/><rect x="899.1" y="404.0" width="21.5" height="21.5" rx="6" fill="#ececec" opacity="1" transform="rotate(-28.0 909.9 414.7)"/><rect x="1057.2" y="400.0" width="20.0" height="20.0" rx="6" fill="#ececec" opacity="1" transform="rotate(-27.1 1067.2 410.0)"/><rect x="1081.9" y="462.2" width="21.5" height="21.5" rx="6" fill="#ececec" opacity="1" transform="rotate(-17.6 1092.6 473.0)"/><rect x="884.5" y="374.2" width="21.1" height="21.1" rx="6" fill="#ececec" opacity="1" transform="rotate(4.8 895.1 384.7)"/><rect x="1063.4" y="476.3" width="22.2" height="22.2" rx="6" fill="#ececec" opacity="1" transform="rotate(33.2 1074.5 487.4)"/><rect x="1035.0" y="470.7" width="22.3" height="22.3" rx="6" fill="#ececec" opacity="1" transform="rotate(-11.2 1046.1 481.9)"/><rect x="905.0" y="319.4" width="22.4" height="22.4" rx="6" fill="#ececec" opacity="1" transform="rotate(-4.5 916.2 330.6)"/><rect x="979.4" y="284.6" width="21.9" height="21.9" rx="6" fill="#ececec" opacity="1" transform="rotate(6.6 990.4 295.5)"/><rect x="943.1" y="453.1" width="21.6" height="21.6" rx="6" fill="#ececec" opacity="1" transform="rotate(5.9 954.0 463.9)"/><rect x="1020.3" y="501.1" width="21.5" height="21.5" rx="6" fill="#ececec" opacity="1" transform="rotate(42.1 1031.0 511.9)"/><rect x="1025.3" y="430.4" width="21.0" height="21.0" rx="6" fill="#ececec" opacity="1" transform="rotate(-36.1 1035.8 440.9)"/><rect x="978.4" y="323.0" width="21.8" height="21.8" rx="6" fill="#ececec" opacity="1" transform="rotate(36.1 989.3 333.9)"/><rect x="954.5" y="473.6" width="21.3" height="21.3" rx="6" fill="#ececec" opacity="1" transform="rotate(-20.3 965.2 484.2)"/><rect x="857.2" y="372.4" width="21.1" height="21.1" rx="6" fill="#ececec" opacity="1" transform="rotate(4.0 867.7 382.9)"/><rect x="918.7" y="330.1" width="21.8" height="21.8" rx="6" fill="#ececec" opacity="1" transform="rotate(13.3 929.6 341.0)"/><rect x="1047.8" y="445.0" width="21.2" height="21.2" rx="6" fill="#ececec" opacity="1" transform="rotate(43.2 1058.4 455.6)"/><rect x="936.6" y="461.9" width="21.8" height="21.8" rx="6" fill="#ececec" opacity="1" transform="rotate(-15.2 947.5 472.8)"/><rect x="1061.3" y="417.8" width="22.1" height="22.1" rx="6" fill="#ececec" opacity="1" transform="rotate(1.6 1072.3 428.9)"/><rect x="915.4" y="464.8" width="21.1" height="21.1" rx="6" fill="#ececec" opacity="1" transform="rotate(-24.4 926.0 475.4)"/><rect x="1103.7" y="440.6" width="20.2" height="20.2" rx="6" fill="#ececec" opacity="1" transform="rotate(-18.8 1113.8 450.7)"/><rect x="955.3" y="409.1" width="21.6" height="21.6" rx="6" fill="#ececec" opacity="1" transform="rotate(-27.7 966.0 419.9)"/><rect x="942.6" y="367.1" width="20.1" height="20.1" rx="6" fill="#ececec" opacity="1" transform="rotate(-35.4 952.6 377.2)"/><rect x="997.3" y="337.6" width="22.5" height="22.5" rx="6" fill="#ececec" opacity="1" transform="rotate(-21.2 1008.5 348.8)"/><rect x="1105.0" y="400.2" width="20.1" height="20.1" rx="6" fill="#ececec" opacity="1" transform="rotate(-38.2 1115.0 410.3)"/><rect x="878.4" y="347.1" width="21.2" height="21.2" rx="6" fill="#ececec" opacity="1" transform="rotate(-1.5 889.0 357.7)"/><rect x="887.2" y="304.6" width="22.0" height="22.0" rx="6" fill="#ececec" opacity="1" transform="rotate(-29.5 898.2 315.6)"/><rect x="971.8" y="368.6" width="20.2" height="20.2" rx="6" fill="#ececec" opacity="1" transform="rotate(33.1 981.9 378.7)"/><rect x="1037.9" y="499.4" width="22.0" height="22.0" rx="6" fill="#ececec" opacity="1" transform="rotate(-18.2 1048.9 510.4)"/><rect x="891.5" y="422.0" width="22.5" height="22.5" rx="6" fill="#ececec" opacity="1" transform="rotate(42.6 902.8 433.3)"/><rect x="1083.7" y="456.8" width="20.9" height="20.9" rx="6" fill="#ececec" opacity="1" transform="rotate(-43.6 1094.1 467.3)"/><rect x="970.1" y="346.2" width="21.2" height="21.2" rx="6" fill="#ececec" opacity="1" transform="rotate(27.4 980.7 356.9)"/><rect x="1010.1" y="467.7" width="20.2" height="20.2" rx="6" fill="#ececec" opacity="1" transform="rotate(41.7 1020.2 477.8)"/><rect x="1070.3" y="409.5" width="21.4" height="21.4" rx="6" fill="#ececec" opacity="1" transform="rotate(2.1 1081.0 420.2)"/><rect x="975.0" y="304.8" width="20.4" height="20.4" rx="6" fill="#ececec" opacity="1" transform="rotate(19.5 985.2 315.0)"/><rect x="889.8" y="349.8" width="21.6" height="21.6" rx="6" fill="#ececec" opacity="1" transform="rotate(-36.8 900.5 360.6)"/><rect x="892.2" y="435.5" width="20.4" height="20.4" rx="6" fill="#ececec" opacity="1" transform="rotate(-12.7 902.4 445.7)"/><rect x="1040.4" y="404.3" width="21.8" height="21.8" rx="6" fill="#ececec" opacity="1" transform="rotate(13.2 1051.3 415.2)"/><rect x="869.8" y="365.2" width="22.4" height="22.4" rx="6" fill="#ececec" opacity="1" transform="rotate(-18.4 881.0 376.4)"/><rect x="1099.3" y="395.6" width="20.9" height="20.9" rx="6" fill="#ececec" opacity="1" transform="rotate(24.4 1109.8 406.0)"/><rect x="873.1" y="410.6" width="21.9" height="21.9" rx="6" fill="#ececec" opacity="1" transform="rotate(42.4 884.1 421.5)"/><rect x="862.2" y="297.2" width="21.0" height="21.0" rx="6" fill="#ececec" opacity="1" transform="rotate(-9.1 872.7 307.7)"/><rect x="982.4" y="421.6" width="20.5" height="20.5" rx="6" fill="#ececec" opacity="1" transform="rotate(18.9 992.6 431.8)"/><rect x="954.8" y="358.6" width="21.3" height="21.3" rx="6" fill="#ececec" opacity="1" transform="rotate(-17.1 965.5 369.3)"/><rect x="921.7" y="437.6" width="20.6" height="20.6" rx="6" fill="#ececec" opacity="1" transform="rotate(-41.9 932.0 447.9)"/><rect x="1040.2" y="390.4" width="21.5" height="21.5" rx="6" fill="#ececec" opacity="1" transform="rotate(41.2 1050.9 401.2)"/><rect x="855.0" y="320.8" width="20.7" height="20.7" rx="6" fill="#ececec" opacity="1" transform="rotate(-40.8 865.4 331.2)"/><rect x="951.2" y="399.8" width="20.1" height="20.1" rx="6" fill="#ececec" opacity="1" transform="rotate(-42.0 961.2 409.9)"/><rect x="1122.7" y="435.9" width="21.8" height="21.8" rx="6" fill="#ececec" opacity="1" transform="rotate(4.7 1133.7 446.8)"/><rect x="967.2" y="303.4" width="20.2" height="20.2" rx="6" fill="#ececec" opacity="1" transform="rotate(-23.3 977.3 313.5)"/><rect x="966.6" y="335.9" width="22.1" height="22.1" rx="6" fill="#ececec" opacity="1" transform="rotate(24.6 977.6 346.9)"/><rect x="924.2" y="347.5" width="21.0" height="21.0" rx="6" fill="#ececec" opacity="1" transform="rotate(39.8 934.7 358.0)"/><rect x="913.2" y="437.1" width="21.1" height="21.1" rx="6" fill="#ececec" opacity="1" transform="rotate(37.2 923.7 447.6)"/><rect x="1097.3" y="381.8" width="20.3" height="20.3" rx="6" fill="#ececec" opacity="1" transform="rotate(-36.5 1107.5 391.9)"/><rect x="851.2" y="349.1" width="21.5" height="21.5" rx="6" fill="#ececec" opacity="1" transform="rotate(10.8 861.9 359.8)"/><rect x="1073.5" y="454.0" width="21.2" height="21.2" rx="6" fill="#ececec" opacity="1" transform="rotate(-36.6 1084.1 464.6)"/><rect x="917.7" y="447.5" width="21.7" height="21.7" rx="6" fill="#ececec" opacity="1" transform="rotate(-26.5 928.6 458.3)"/><rect x="989.6" y="284.3" width="21.2" height="21.2" rx="6" fill="#ececec" opacity="1" transform="rotate(26.7 1000.3 294.9)"/><rect x="984.5" y="410.0" width="22.2" height="22.2" rx="6" fill="#ececec" opacity="1" transform="rotate(-21.0 995.5 421.1)"/><rect x="916.8" y="356.3" width="21.3" height="21.3" rx="6" fill="#ececec" opacity="1" transform="rotate(17.0 927.4 367.0)"/><rect x="1091.5" y="394.3" width="21.5" height="21.5" rx="6" fill="#ececec" opacity="1" transform="rotate(-17.2 1102.2 405.1)"/><rect x="894.2" y="464.6" width="21.2" height="21.2" rx="6" fill="#ececec" opacity="1" transform="rotate(-1.4 904.8 475.2)"/><rect x="1096.5" y="464.3" width="22.2" height="22.2" rx="6" fill="#ececec" opacity="1" transform="rotate(4.2 1107.6 475.4)"/><rect x="1004.7" y="510.8" width="22.2" height="22.2" rx="6" fill="#ececec" opacity="1" transform="rotate(-40.5 1015.7 521.9)"/><rect x="979.6" y="381.4" width="20.7" height="20.7" rx="6" fill="#ececec" opacity="1" transform="rotate(9.7 990.0 391.8)"/><rect x="894.3" y="354.2" width="21.6" height="21.6" rx="6" fill="#ececec" opacity="1" transform="rotate(-20.0 905.1 365.0)"/><rect x="957.4" y="372.9" width="22.0" height="22.0" rx="6" fill="#ececec" opacity="1" transform="rotate(21.0 968.3 383.9)"/><rect x="867.3" y="358.8" width="20.2" height="20.2" rx="6" fill="#ececec" opacity="1" transform="rotate(-13.4 877.4 368.9)"/><rect x="876.2" y="354.6" width="22.3" height="22.3" rx="6" fill="#ececec" opacity="1" transform="rotate(-3.9 887.3 365.8)"/><rect x="869.1" y="420.0" width="20.3" height="20.3" rx="6" fill="#ececec" opacity="1" transform="rotate(-28.1 879.2 430.2)"/><rect x="867.1" y="294.6" width="22.5" height="22.5" rx="6" fill="#ececec" opacity="1" transform="rotate(-5.3 878.3 305.8)"/><rect x="919.2" y="481.6" width="20.4" height="20.4" rx="6" fill="#ececec" opacity="1" transform="rotate(-21.2 929.4 491.8)"/><rect x="972.7" y="311.1" width="20.5" height="20.5" rx="6" fill="#ececec" opacity="1" transform="rotate(-28.5 983.0 321.4)"/><rect x="856.4" y="359.3" width="20.7" height="20.7" rx="6" fill="#ececec" opacity="1" transform="rotate(28.0 866.8 369.7)"/><rect x="1047.4" y="463.7" width="20.5" height="20.5" rx="6" fill="#ececec" opacity="1" transform="rotate(35.0 1057.7 473.9)"/><rect x="857.6" y="346.8" width="22.5" height="22.5" rx="6" fill="#ececec" opacity="1" transform="rotate(-41.6 868.8 358.0)"/><rect x="1007.7" y="498.0" width="21.9" height="21.9" rx="6" fill="#ececec" opacity="1" transform="rotate(23.9 1018.6 509.0)"/><rect x="1112.6" y="457.1" width="21.8" height="21.8" rx="6" fill="#ececec" opacity="1" transform="rotate(-44.0 1123.5 468.0)"/><rect x="1111.6" y="448.2" width="21.6" height="21.6" rx="6" fill="#ececec" opacity="1" transform="rotate(-12.9 1122.4 459.0)"/><rect x="888.9" y="473.3" width="22.4" height="22.4" rx="6" fill="#ececec" opacity="1" transform="rotate(33.6 900.1 484.5)"/><rect x="1013.1" y="349.0" width="20.4" height="20.4" rx="6" fill="#ececec" opacity="1" transform="rotate(-12.7 1023.3 359.2)"/><rect x="1066.3" y="463.6" width="21.4" height="21.4" rx="6" fill="#ececec" opacity="1" transform="rotate(14.3 1077.0 474.3)"/><rect x="1015.2" y="418.9" width="22.2" height="22.2" rx="6" fill="#ececec" opacity="1" transform="rotate(-23.5 1026.3 430.0)"/><rect x="1080.8" y="409.1" width="20.4" height="20.4" rx="6" fill="#ececec" opacity="1" transform="rotate(-20.4 1091.0 419.3)"/><rect x="1045.1" y="510.1" width="21.6" height="21.6" rx="6" fill="#ececec" opacity="1" transform="rotate(39.4 1055.9 520.9)"/><rect x="1005.9" y="431.2" width="21.6" height="21.6" rx="6" fill="#ececec" opacity="1" transform="rotate(9.3 1016.6 442.0)"/><rect x="955.0" y="503.5" width="21.6" height="21.6" rx="6" fill="#ececec" opacity="1" transform="rotate(-24.9 965.8 514.3)"/><rect x="1012.5" y="365.3" width="20.1" height="20.1" rx="6" fill="#ececec" opacity="1" transform="rotate(23.4 1022.5 375.4)"/><rect x="958.2" y="394.2" width="22.3" height="22.3" rx="6" fill="#ececec" opacity="1" transform="rotate(-4.8 969.3 405.4)"/><rect x="1006.2" y="448.3" width="22.4" height="22.4" rx="6" fill="#ececec" opacity="1" transform="rotate(15.9 1017.4 459.5)"/><rect x="965.2" y="404.6" width="20.5" height="20.5" rx="6" fill="#ececec" opacity="1" transform="rotate(38.3 975.4 414.9)"/><rect x="988.7" y="301.5" width="20.5" height="20.5" rx="6" fill="#ececec" opacity="1" transform="rotate(40.7 999.0 311.8)"/><rect x="862.0" y="368.4" width="21.8" height="21.8" rx="6" fill="#ececec" opacity="1" transform="rotate(-21.1 872.8 379.3)"/><rect x="916.5" y="409.5" width="20.5" height="20.5" rx="6" fill="#ececec" opacity="1" transform="rotate(6.4 926.8 419.8)"/><rect x="1096.1" y="438.9" width="21.6" height="21.6" rx="6" fill="#ececec" opacity="1" transform="rotate(17.9 1106.9 449.7)"/><rect x="1065.9" y="403.1" width="20.3" height="20.3" rx="6" fill="#ececec" opacity="1" transform="rotate(-15.8 1076.0 413.2)"/><rect x="864.4" y="408.5" width="22.2" height="22.2" rx="6" fill="#ececec" opacity="1" transform="rotate(15.1 875.5 419.6)"/><rect x="847.8" y="328.5" width="21.9" height="21.9" rx="6" fill="#ececec" opacity="1" transform="rotate(-7.8 858.7 339.4)"/><rect x="1101.7" y="458.3" width="22.3" height="22.3" rx="6" fill="#ececec" opacity="1" transform="rotate(33.4 1112.8 469.5)"/><rect x="866.1" y="319.8" width="20.6" height="20.6" rx="6" fill="#ececec" opacity="1" transform="rotate(21.9 876.4 330.1)"/><rect x="1044.7" y="476.3" width="20.7" height="20.7" rx="6" fill="#ececec" opacity="1" transform="rotate(-6.0 1055.0 486.7)"/><rect x="870.7" y="310.9" width="20.4" height="20.4" rx="6" fill="#ececec" opacity="1" transform="rotate(-13.8 880.9 321.2)"/><rect x="970.4" y="399.2" width="22.0" height="22.0" rx="6" fill="#ececec" opacity="1" transform="rotate(41.7 981.4 410.3)"/><rect x="1049.1" y="411.6" width="20.6" height="20.6" rx="6" fill="#ececec" opacity="1" transform="rotate(-28.6 1059.4 421.9)"/><rect x="976.7" y="372.0" width="21.7" height="21.7" rx="6" fill="#ececec" opacity="1" transform="rotate(0.0 987.6 382.8)"/><rect x="1024.4" y="439.5" width="21.4" height="21.4" rx="6" fill="#ececec" opacity="1" transform="rotate(-17.0 1035.1 450.2)"/><rect x="959.9" y="296.0" width="21.3" height="21.3" rx="6" fill="#ececec" opacity="1" transform="rotate(12.3 970.5 306.6)"/><rect x="898.4" y="349.2" width="21.7" height="21.7" rx="6" fill="#ececec" opacity="1" transform="rotate(-7.4 909.3 360.0)"/><rect x="912.6" y="473.2" width="20.5" height="20.5" rx="6" fill="#ececec" opacity="1" transform="rotate(2.7 922.8 483.5)"/><rect x="972.4" y="295.7" width="22.0" height="22.0" rx="6" fill="#ececec" opacity="1" transform="rotate(28.6 983.4 306.7)"/><rect x="1026.4" y="445.6" width="22.2" height="22.2" rx="6" fill="#ececec" opacity="1" transform="rotate(-17.6 1037.5 456.7)"/><rect x="1027.7" y="503.9" width="20.4" height="20.4" rx="6" fill="#ececec" opacity="1" transform="rotate(-13.5 1037.9 514.1)"/><rect x="1013.6" y="490.9" width="22.0" height="22.0" rx="6" fill="#ececec" opacity="1" transform="rotate(33.5 1024.6 502.0)"/><rect x="945.5" y="356.1" width="21.9" height="21.9" rx="6" fill="#ececec" opacity="1" transform="rotate(-5.2 956.5 367.0)"/><rect x="991.2" y="471.3" width="22.1" height="22.1" rx="6" fill="#ececec" opacity="1" transform="rotate(25.1 1002.3 482.4)"/><rect x="1116.9" y="474.4" width="22.4" height="22.4" rx="6" fill="#ececec" opacity="1" transform="rotate(-44.2 1128.1 485.6)"/><rect x="883.5" y="369.1" width="20.0" height="20.0" rx="6" fill="#ececec" opacity="1" transform="rotate(-21.6 893.5 379.1)"/><rect x="957.2" y="482.3" width="21.0" height="21.0" rx="6" fill="#ececec" opacity="1" transform="rotate(-8.1 967.6 492.8)"/><rect x="998.9" y="448.6" width="20.4" height="20.4" rx="6" fill="#ececec" opacity="1" transform="rotate(5.7 1009.0 458.8)"/><rect x="963.5" y="391.8" width="22.5" height="22.5" rx="6" fill="#ececec" opacity="1" transform="rotate(-2.2 974.7 403.0)"/><rect x="1015.3" y="393.6" width="21.7" height="21.7" rx="6" fill="#ececec" opacity="1" transform="rotate(35.1 1026.1 404.5)"/><rect x="1046.5" y="501.6" width="20.3" height="20.3" rx="6" fill="#ececec" opacity="1" transform="rotate(-30.5 1056.6 511.8)"/><rect x="972.0" y="382.6" width="22.1" height="22.1" rx="6" fill="#ececec" opacity="1" transform="rotate(12.0 983.1 393.7)"/><rect x="1009.2" y="484.9" width="21.4" height="21.4" rx="6" fill="#ececec" opacity="1" transform="rotate(-10.8 1019.9 495.6)"/><rect x="1035.4" y="426.1" width="21.4" height="21.4" rx="6" fill="#ececec" opacity="1" transform="rotate(-21.1 1046.1 436.8)"/><rect x="839.2" y="330.7" width="20.9" height="20.9" rx="6" fill="#ececec" opacity="1" transform="rotate(-36.8 849.7 341.2)"/><rect x="867.8" y="428.3" width="20.6" height="20.6" rx="6" fill="#ececec" opacity="1" transform="rotate(-15.7 878.1 438.6)"/><rect x="1036.3" y="446.0" width="20.8" height="20.8" rx="6" fill="#ececec" opacity="1" transform="rotate(-2.8 1046.7 456.4)"/><rect x="875.1" y="306.3" width="20.4" height="20.4" rx="6" fill="#ececec" opacity="1" transform="rotate(0.9 885.3 316.5)"/><rect x="983.4" y="292.4" width="21.8" height="21.8" rx="6" fill="#ececec" opacity="1" transform="rotate(44.1 994.3 303.3)"/><rect x="902.6" y="466.5" width="22.0" height="22.0" rx="6" fill="#ececec" opacity="1" transform="rotate(16.2 913.6 477.5)"/><rect x="1126.8" y="446.7" width="22.5" height="22.5" rx="6" fill="#ececec" opacity="1" transform="rotate(-8.7 1138.0 458.0)"/><rect x="884.0" y="462.1" width="22.5" height="22.5" rx="6" fill="#ececec" opacity="1" transform="rotate(23.5 895.3 473.4)"/><rect x="1052.3" y="472.4" width="20.7" height="20.7" rx="6" fill="#ececec" opacity="1" transform="rotate(34.1 1062.7 482.7)"/><rect x="849.1" y="314.8" width="21.3" height="21.3" rx="6" fill="#ececec" opacity="1" transform="rotate(-23.5 859.8 325.4)"/><rect x="962.9" y="509.8" width="22.4" height="22.4" rx="6" fill="#ececec" opacity="1" transform="rotate(-7.9 974.1 521.0)"/><rect x="1108.5" y="481.7" width="21.1" height="21.1" rx="6" fill="#ececec" opacity="1" transform="rotate(-1.9 1119.1 492.2)"/><rect x="912.7" y="417.2" width="21.3" height="21.3" rx="6" fill="#ececec" opacity="1" transform="rotate(-6.0 923.3 427.9)"/><rect x="862.4" y="341.7" width="21.9" height="21.9" rx="6" fill="#ececec" opacity="1" transform="rotate(-17.2 873.3 352.6)"/><rect x="1127.1" y="462.3" width="22.0" height="22.0" rx="6" fill="#ececec" opacity="1" transform="rotate(33.8 1138.1 473.3)"/><rect x="1043.3" y="417.6" width="20.9" height="20.9" rx="6" fill="#ececec" opacity="1" transform="rotate(23.7 1053.7 428.0)"/><rect x="1066.5" y="501.0" width="21.8" height="21.8" rx="6" fill="#ececec" opacity="1" transform="rotate(21.1 1077.4 511.9)"/><rect x="996.3" y="357.2" width="21.5" height="21.5" rx="6" fill="#ececec" opacity="1" transform="rotate(8.0 1007.0 367.9)"/><rect x="907.4" y="390.8" width="21.1" height="21.1" rx="6" fill="#ececec" opacity="1" transform="rotate(-35.9 918.0 401.3)"/><rect x="903.6" y="330.6" width="20.2" height="20.2" rx="6" fill="#ececec" opacity="1" transform="rotate(38.7 913.7 340.7)"/><rect x="909.1" y="310.3" width="21.6" height="21.6" rx="6" fill="#ececec" opacity="1" transform="rotate(-8.6 919.9 321.1)"/><rect x="1114.1" y="439.2" width="20.1" height="20.1" rx="6" fill="#ececec" opacity="1" transform="rotate(-41.4 1124.1 449.2)"/><rect x="903.0" y="294.5" width="22.1" height="22.1" rx="6" fill="#ececec" opacity="1" transform="rotate(44.4 914.0 305.6)"/><rect x="978.7" y="484.6" width="20.5" height="20.5" rx="6" fill="#ececec" opacity="1" transform="rotate(-34.5 989.0 494.9)"/><rect x="981.7" y="310.2" width="20.5" height="20.5" rx="6" fill="#ececec" opacity="1" transform="rotate(0.4 991.9 320.4)"/><rect x="1011.4" y="454.2" width="21.4" height="21.4" rx="6" fill="#ececec" opacity="1" transform="rotate(-34.9 1022.1 464.9)"/><rect x="893.9" y="483.1" width="21.3" height="21.3" rx="6" fill="#ececec" opacity="1" transform="rotate(-34.9 904.5 493.7)"/><rect x="872.1" y="405.2" width="20.1" height="20.1" rx="6" fill="#ececec" opacity="1" transform="rotate(-9.4 882.2 415.3)"/><rect x="895.6" y="319.2" width="20.8" height="20.8" rx="6" fill="#ececec" opacity="1" transform="rotate(-37.3 906.0 329.6)"/><rect x="1064.3" y="385.2" width="21.1" height="21.1" rx="6" fill="#ececec" opacity="1" transform="rotate(45.0 1074.9 395.7)"/><rect x="1027.2" y="355.4" width="22.1" height="22.1" rx="6" fill="#ececec" opacity="1" transform="rotate(35.3 1038.2 366.4)"/><rect x="999.5" y="502.8" width="22.2" height="22.2" rx="6" fill="#ececec" opacity="1" transform="rotate(8.8 1010.5 513.9)"/><rect x="995.9" y="464.6" width="20.9" height="20.9" rx="6" fill="#ececec" opacity="1" transform="rotate(-19.7 1006.4 475.1)"/><rect x="995.7" y="376.9" width="21.9" height="21.9" rx="6" fill="#ececec" opacity="1" transform="rotate(-7.1 1006.7 387.9)"/><rect x="1075.5" y="436.8" width="22.3" height="22.3" rx="6" fill="#ececec" opacity="1" transform="rotate(24.7 1086.6 448.0)"/><rect x="976.0" y="463.7" width="20.9" height="20.9" rx="6" fill="#ececec" opacity="1" transform="rotate(6.6 986.4 474.2)"/><rect x="946.3" y="467.4" width="21.4" height="21.4" rx="6" fill="#ececec" opacity="1" transform="rotate(-15.0 957.0 478.1)"/><rect x="971.5" y="507.3" width="21.3" height="21.3" rx="6" fill="#ececec" opacity="1" transform="rotate(-30.0 982.1 517.9)"/><rect x="1089.0" y="485.5" width="20.4" height="20.4" rx="6" fill="#ececec" opacity="1" transform="rotate(-22.4 1099.2 495.7)"/><rect x="967.6" y="498.8" width="20.5" height="20.5" rx="6" fill="#ececec" opacity="1" transform="rotate(-15.0 977.9 509.0)"/><rect x="1037.4" y="466.1" width="21.2" height="21.2" rx="6" fill="#ececec" opacity="1" transform="rotate(-11.9 1048.0 476.7)"/><rect x="1035.2" y="400.6" width="20.1" height="20.1" rx="6" fill="#ececec" opacity="1" transform="rotate(4.8 1045.2 410.7)"/><rect x="932.3" y="490.9" width="21.1" height="21.1" rx="6" fill="#ececec" opacity="1" transform="rotate(-9.6 942.9 501.4)"/><rect x="1038.8" y="484.9" width="22.3" height="22.3" rx="6" fill="#ececec" opacity="1" transform="rotate(-2.4 1050.0 496.0)"/><rect x="974.5" y="471.7" width="22.3" height="22.3" rx="6" fill="#ececec" opacity="1" transform="rotate(11.2 985.6 482.9)"/><rect x="907.3" y="499.2" width="20.3" height="20.3" rx="6" fill="#ececec" opacity="1" transform="rotate(-30.6 917.5 509.4)"/><rect x="1053.2" y="510.7" width="22.4" height="22.4" rx="6" fill="#ececec" opacity="1" transform="rotate(-34.6 1064.4 521.9)"/><rect x="1011.8" y="400.5" width="21.3" height="21.3" rx="6" fill="#ececec" opacity="1" transform="rotate(-28.6 1022.4 411.1)"/><rect x="980.4" y="474.5" width="20.5" height="20.5" rx="6" fill="#ececec" opacity="1" transform="rotate(39.6 990.6 484.8)"/><rect x="993.6" y="293.6" width="22.4" height="22.4" rx="6" fill="#ececec" opacity="1" transform="rotate(-4.7 1004.8 304.8)"/><rect x="1061.0" y="375.0" width="20.1" height="20.1" rx="6" fill="#ececec" opacity="1" transform="rotate(3.9 1071.1 385.1)"/><rect x="913.8" y="330.7" width="20.6" height="20.6" rx="6" fill="#ececec" opacity="1" transform="rotate(-35.2 924.1 341.0)"/><rect x="1003.6" y="437.9" width="20.6" height="20.6" rx="6" fill="#ececec" opacity="1" transform="rotate(9.7 1013.9 448.2)"/><rect x="954.8" y="365.8" width="20.1" height="20.1" rx="6" fill="#ececec" opacity="1" transform="rotate(-32.5 964.9 375.9)"/><rect x="1103.9" y="475.6" width="21.1" height="21.1" rx="6" fill="#ececec" opacity="1" transform="rotate(-32.4 1114.5 486.2)"/><rect x="1018.8" y="356.4" width="22.2" height="22.2" rx="6" fill="#ececec" opacity="1" transform="rotate(25.4 1029.8 367.5)"/><rect x="959.1" y="338.2" width="22.0" height="22.0" rx="6" fill="#ececec" opacity="1" transform="rotate(-33.1 970.1 349.2)"/><rect x="995.2" y="331.1" width="21.3" height="21.3" rx="6" fill="#ececec" opacity="1" transform="rotate(4.2 1005.9 341.7)"/><rect x="904.3" y="482.2" width="22.4" height="22.4" rx="6" fill="#ececec" opacity="1" transform="rotate(31.8 915.5 493.4)"/><rect x="1006.0" y="376.3" width="21.6" height="21.6" rx="6" fill="#ececec" opacity="1" transform="rotate(7.5 1016.8 387.1)"/><rect x="974.0" y="492.8" width="21.4" height="21.4" rx="6" fill="#ececec" opacity="1" transform="rotate(38.3 984.6 503.5)"/><rect x="1058.6" y="498.5" width="20.2" height="20.2" rx="6" fill="#ececec" opacity="1" transform="rotate(13.2 1068.8 508.6)"/><rect x="1031.5" y="510.6" width="21.9" height="21.9" rx="6" fill="#ececec" opacity="1" transform="rotate(29.9 1042.5 521.6)"/><rect x="885.5" y="410.1" width="20.2" height="20.2" rx="6" fill="#ececec" opacity="1" transform="rotate(-19.0 895.6 420.2)"/><rect x="1089.6" y="412.0" width="20.3" height="20.3" rx="6" fill="#ececec" opacity="1" transform="rotate(-8.5 1099.8 422.2)"/><rect x="1067.1" y="457.2" width="20.3" height="20.3" rx="6" fill="#ececec" opacity="1" transform="rotate(29.7 1077.2 467.3)"/><rect x="911.8" y="369.0" width="21.3" height="21.3" rx="6" fill="#ececec" opacity="1" transform="rotate(-44.4 922.5 379.7)"/><rect x="1083.4" y="473.3" width="20.4" height="20.4" rx="6" fill="#ececec" opacity="1" transform="rotate(16.4 1093.6 483.5)"/><rect x="1045.2" y="457.9" width="20.2" height="20.2" rx="6" fill="#ececec" opacity="1" transform="rotate(-8.3 1055.3 468.0)"/><rect x="883.3" y="286.5" width="20.1" height="20.1" rx="6" fill="#ececec" opacity="1" transform="rotate(32.3 893.4 296.5)"/><rect x="1011.7" y="440.7" width="20.2" height="20.2" rx="6" fill="#ececec" opacity="1" transform="rotate(31.7 1021.8 450.8)"/><rect x="890.2" y="310.4" width="22.0" height="22.0" rx="6" fill="#ececec" opacity="1" transform="rotate(-6.1 901.2 321.4)"/><rect x="965.9" y="408.2" width="21.0" height="21.0" rx="6" fill="#ececec" opacity="1" transform="rotate(19.9 976.4 418.7)"/><rect x="877.4" y="310.8" width="21.3" height="21.3" rx="6" fill="#ececec" opacity="1" transform="rotate(43.0 888.0 321.4)"/><rect x="923.2" y="479.7" width="22.0" height="22.0" rx="6" fill="#ececec" opacity="1" transform="rotate(40.7 934.2 490.7)"/><rect x="1009.9" y="391.8" width="22.1" height="22.1" rx="6" fill="#ececec" opacity="1" transform="rotate(20.7 1020.9 402.9)"/><rect x="975.5" y="355.9" width="21.3" height="21.3" rx="6" fill="#ececec" opacity="1" transform="rotate(35.6 986.1 366.6)"/><rect x="1000.4" y="330.3" width="20.1" height="20.1" rx="6" fill="#ececec" opacity="1" transform="rotate(-0.2 1010.5 340.4)"/><rect x="888.4" y="386.5" width="22.1" height="22.1" rx="6" fill="#ececec" opacity="1" transform="rotate(26.6 899.5 397.5)"/><rect x="930.2" y="334.2" width="21.5" height="21.5" rx="6" fill="#ececec" opacity="1" transform="rotate(15.7 941.0 345.0)"/><rect x="935.2" y="303.2" width="21.5" height="21.5" rx="6" fill="#ececec" opacity="1" transform="rotate(20.2 946.0 314.0)"/><rect x="946.2" y="310.2" width="21.5" height="21.5" rx="6" fill="#ececec" opacity="1" transform="rotate(29.7 957.0 321.0)"/><rect x="925.2" y="307.2" width="21.5" height="21.5" rx="6" fill="#ececec" opacity="1" transform="rotate(15.2 936.0 318.0)"/><rect x="936.2" y="322.2" width="21.5" height="21.5" rx="6" fill="#ececec" opacity="1" transform="rotate(-13.5 947.0 333.0)"/><rect x="1139.2" y="387.2" width="21.5" height="21.5" rx="6" fill="#ececec" opacity="1" transform="rotate(-15.0 1150.0 398.0)"/><rect x="1140.2" y="403.2" width="21.5" height="21.5" rx="6" fill="#ececec" opacity="1" transform="rotate(-5.3 1151.0 414.0)"/><rect x="947.2" y="339.2" width="21.5" height="21.5" rx="6" fill="#ececec" opacity="1" transform="rotate(-28.7 958.0 350.0)"/></g>
<g filter="url(#b3)" opacity="0.5"><ellipse cx="893" cy="346" rx="35.3" ry="39.4" fill="#3c3c3c"/><ellipse cx="985" cy="314" rx="26.2" ry="20.5" fill="#3c3c3c"/><ellipse cx="975" cy="300" rx="18.0" ry="11.5" fill="#3c3c3c"/><ellipse cx="995" cy="384" rx="37.7" ry="39.4" fill="#3c3c3c"/><ellipse cx="897" cy="421" rx="25.4" ry="22.1" fill="#3c3c3c"/><ellipse cx="926" cy="476" rx="28.7" ry="29.5" fill="#3c3c3c"/><ellipse cx="1000" cy="499" rx="38.5" ry="22.1" fill="#3c3c3c"/><ellipse cx="1055" cy="500" rx="24.6" ry="23.0" fill="#3c3c3c"/><ellipse cx="1079" cy="408" rx="32.0" ry="23.8" fill="#3c3c3c"/><ellipse cx="1109" cy="466" rx="25.4" ry="28.7" fill="#3c3c3c"/><ellipse cx="1029" cy="447" rx="21.3" ry="18.0" fill="#3c3c3c"/><ellipse cx="1062" cy="471" rx="16.4" ry="14.8" fill="#3c3c3c"/></g>
<g filter="url(#b07)"><rect x="1098.9" y="477.5" width="13.5" height="13.5" rx="3.5" fill="#080808" opacity="0.67" transform="rotate(34.5 1105.7 484.2)"/><rect x="1060.5" y="413.6" width="13.0" height="13.0" rx="3.5" fill="#080808" opacity="0.19" transform="rotate(38.4 1067.0 420.2)"/><rect x="1090.5" y="444.0" width="13.4" height="13.4" rx="3.5" fill="#080808" opacity="0.28" transform="rotate(-12.0 1097.2 450.8)"/><rect x="1054.6" y="459.0" width="14.3" height="14.3" rx="3.5" fill="#080808" opacity="0.49" transform="rotate(30.5 1061.7 466.2)"/><rect x="908.0" y="344.4" width="13.9" height="13.9" rx="3.5" fill="#080808" opacity="0.38" transform="rotate(-14.9 914.9 351.3)"/><rect x="1115.2" y="469.5" width="13.5" height="13.5" rx="3.5" fill="#080808" opacity="0.18" transform="rotate(-9.0 1122.0 476.3)"/><rect x="880.7" y="340.4" width="13.9" height="13.9" rx="3.5" fill="#080808" opacity="0.35" transform="rotate(37.8 887.6 347.4)"/><rect x="924.8" y="497.6" width="14.8" height="14.8" rx="3.5" fill="#080808" opacity="0.62" transform="rotate(-11.5 932.2 505.0)"/><rect x="1027.2" y="423.7" width="13.7" height="13.7" rx="3.5" fill="#080808" opacity="0.23" transform="rotate(24.5 1034.0 430.6)"/><rect x="947.1" y="477.5" width="13.8" height="13.8" rx="3.5" fill="#080808" opacity="0.38" transform="rotate(24.5 954.0 484.4)"/><rect x="1121.4" y="447.8" width="15.1" height="15.1" rx="3.5" fill="#080808" opacity="0.57" transform="rotate(-23.5 1129.0 455.4)"/><rect x="1094.6" y="433.0" width="14.6" height="14.6" rx="3.5" fill="#080808" opacity="0.14" transform="rotate(16.6 1101.9 440.3)"/><rect x="985.0" y="494.8" width="13.3" height="13.3" rx="3.5" fill="#080808" opacity="0.44" transform="rotate(-25.1 991.7 501.4)"/><rect x="951.5" y="489.5" width="13.7" height="13.7" rx="3.5" fill="#080808" opacity="0.38" transform="rotate(-7.0 958.3 496.4)"/><rect x="1024.8" y="494.7" width="13.5" height="13.5" rx="3.5" fill="#080808" opacity="0.2" transform="rotate(3.5 1031.6 501.5)"/><rect x="1019.0" y="452.9" width="15.1" height="15.1" rx="3.5" fill="#080808" opacity="0.36" transform="rotate(-34.7 1026.5 460.4)"/><rect x="1063.6" y="468.1" width="13.8" height="13.8" rx="3.5" fill="#080808" opacity="0.88" transform="rotate(-29.8 1070.4 474.9)"/><rect x="904.0" y="493.2" width="13.1" height="13.1" rx="3.5" fill="#080808" opacity="0.27" transform="rotate(22.8 910.5 499.7)"/><rect x="1057.4" y="426.6" width="14.0" height="14.0" rx="3.5" fill="#080808" opacity="0.17" transform="rotate(15.1 1064.4 433.6)"/><rect x="894.9" y="461.7" width="13.7" height="13.7" rx="3.5" fill="#080808" opacity="0.24" transform="rotate(14.5 901.8 468.5)"/><rect x="891.1" y="399.5" width="13.4" height="13.4" rx="3.5" fill="#080808" opacity="0.39" transform="rotate(15.6 897.7 406.2)"/><rect x="1044.3" y="413.3" width="14.2" height="14.2" rx="3.5" fill="#080808" opacity="0.34" transform="rotate(1.2 1051.4 420.4)"/><rect x="891.1" y="484.0" width="14.3" height="14.3" rx="3.5" fill="#080808" opacity="0.21" transform="rotate(-44.8 898.3 491.2)"/><rect x="1005.7" y="475.9" width="15.5" height="15.5" rx="3.5" fill="#080808" opacity="0.37" transform="rotate(-0.1 1013.5 483.6)"/><rect x="979.6" y="501.0" width="15.3" height="15.3" rx="3.5" fill="#080808" opacity="0.56" transform="rotate(44.7 987.2 508.7)"/><rect x="1001.2" y="324.0" width="13.1" height="13.1" rx="3.5" fill="#080808" opacity="0.15" transform="rotate(14.6 1007.8 330.6)"/><rect x="1006.4" y="422.8" width="13.5" height="13.5" rx="3.5" fill="#080808" opacity="0.18" transform="rotate(4.1 1013.1 429.5)"/><rect x="1020.1" y="377.0" width="13.8" height="13.8" rx="3.5" fill="#080808" opacity="0.44" transform="rotate(11.5 1027.0 383.8)"/><rect x="932.8" y="468.9" width="13.5" height="13.5" rx="3.5" fill="#080808" opacity="0.46" transform="rotate(35.5 939.5 475.6)"/><rect x="1008.5" y="389.2" width="14.5" height="14.5" rx="3.5" fill="#080808" opacity="0.67" transform="rotate(25.3 1015.7 396.5)"/><rect x="1099.0" y="458.2" width="13.3" height="13.3" rx="3.5" fill="#080808" opacity="0.46" transform="rotate(36.8 1105.7 464.8)"/><rect x="1004.5" y="316.1" width="15.1" height="15.1" rx="3.5" fill="#080808" opacity="0.32" transform="rotate(-31.0 1012.1 323.7)"/><rect x="1034.8" y="394.5" width="13.0" height="13.0" rx="3.5" fill="#080808" opacity="0.12" transform="rotate(13.6 1041.3 401.0)"/><rect x="1036.4" y="492.4" width="15.1" height="15.1" rx="3.5" fill="#080808" opacity="0.55" transform="rotate(5.0 1044.0 500.0)"/><rect x="1000.8" y="307.1" width="13.6" height="13.6" rx="3.5" fill="#080808" opacity="0.77" transform="rotate(18.6 1007.6 313.9)"/><rect x="888.7" y="434.9" width="14.5" height="14.5" rx="3.5" fill="#080808" opacity="0.32" transform="rotate(-5.7 896.0 442.1)"/><rect x="1060.7" y="399.8" width="13.4" height="13.4" rx="3.5" fill="#080808" opacity="0.49" transform="rotate(27.2 1067.4 406.5)"/><rect x="941.5" y="452.7" width="13.4" height="13.4" rx="3.5" fill="#080808" opacity="0.34" transform="rotate(25.3 948.2 459.4)"/><rect x="886.5" y="323.1" width="14.3" height="14.3" rx="3.5" fill="#080808" opacity="0.61" transform="rotate(-3.2 893.6 330.2)"/><rect x="1104.0" y="430.8" width="13.4" height="13.4" rx="3.5" fill="#080808" opacity="0.22" transform="rotate(-21.0 1110.7 437.5)"/><rect x="936.2" y="441.0" width="13.3" height="13.3" rx="3.5" fill="#080808" opacity="0.35" transform="rotate(-27.3 942.9 447.6)"/><rect x="969.6" y="292.2" width="13.4" height="13.4" rx="3.5" fill="#080808" opacity="0.47" transform="rotate(-14.2 976.3 298.9)"/><rect x="1047.4" y="495.2" width="13.6" height="13.6" rx="3.5" fill="#080808" opacity="0.38" transform="rotate(-10.8 1054.2 502.0)"/><rect x="988.0" y="349.3" width="15.4" height="15.4" rx="3.5" fill="#080808" opacity="0.27" transform="rotate(-1.6 995.7 357.0)"/><rect x="966.8" y="367.5" width="13.2" height="13.2" rx="3.5" fill="#080808" opacity="0.28" transform="rotate(8.1 973.4 374.0)"/><rect x="1017.6" y="476.8" width="13.5" height="13.5" rx="3.5" fill="#080808" opacity="0.33" transform="rotate(26.1 1024.3 483.6)"/><rect x="954.4" y="388.6" width="14.1" height="14.1" rx="3.5" fill="#080808" opacity="0.42" transform="rotate(12.4 961.4 395.7)"/><rect x="962.9" y="313.8" width="15.4" height="15.4" rx="3.5" fill="#080808" opacity="0.38" transform="rotate(42.5 970.6 321.5)"/><rect x="860.5" y="313.2" width="15.3" height="15.3" rx="3.5" fill="#080808" opacity="0.26" transform="rotate(11.6 868.2 320.9)"/><rect x="1072.0" y="397.9" width="15.0" height="15.0" rx="3.5" fill="#080808" opacity="0.34" transform="rotate(6.0 1079.5 405.4)"/><rect x="973.0" y="362.6" width="14.8" height="14.8" rx="3.5" fill="#080808" opacity="0.49" transform="rotate(22.2 980.4 370.0)"/><rect x="1014.0" y="414.2" width="13.2" height="13.2" rx="3.5" fill="#080808" opacity="0.38" transform="rotate(-12.9 1020.5 420.8)"/><rect x="998.9" y="416.3" width="14.8" height="14.8" rx="3.5" fill="#080808" opacity="0.28" transform="rotate(6.7 1006.3 423.7)"/><rect x="926.6" y="476.5" width="14.3" height="14.3" rx="3.5" fill="#080808" opacity="0.38" transform="rotate(8.0 933.7 483.6)"/><rect x="1054.7" y="387.8" width="15.1" height="15.1" rx="3.5" fill="#080808" opacity="0.24" transform="rotate(-2.9 1062.3 395.3)"/><rect x="900.4" y="342.7" width="13.2" height="13.2" rx="3.5" fill="#080808" opacity="0.47" transform="rotate(37.8 907.0 349.3)"/><rect x="998.3" y="371.7" width="15.1" height="15.1" rx="3.5" fill="#080808" opacity="0.31" transform="rotate(11.8 1005.8 379.3)"/><rect x="875.2" y="354.4" width="13.8" height="13.8" rx="3.5" fill="#080808" opacity="0.9" transform="rotate(16.0 882.1 361.3)"/><rect x="881.9" y="332.2" width="14.6" height="14.6" rx="3.5" fill="#080808" opacity="0.47" transform="rotate(-6.1 889.2 339.5)"/><rect x="934.4" y="459.6" width="15.4" height="15.4" rx="3.5" fill="#080808" opacity="0.39" transform="rotate(10.8 942.1 467.3)"/><rect x="1079.3" y="425.3" width="13.7" height="13.7" rx="3.5" fill="#080808" opacity="0.26" transform="rotate(11.8 1086.1 432.1)"/><rect x="858.1" y="340.6" width="13.9" height="13.9" rx="3.5" fill="#080808" opacity="0.21" transform="rotate(41.0 865.1 347.5)"/><rect x="877.5" y="325.2" width="14.2" height="14.2" rx="3.5" fill="#080808" opacity="0.26" transform="rotate(42.5 884.6 332.3)"/><rect x="984.6" y="335.7" width="13.8" height="13.8" rx="3.5" fill="#080808" opacity="0.42" transform="rotate(-3.5 991.5 342.6)"/><rect x="989.2" y="359.6" width="13.1" height="13.1" rx="3.5" fill="#080808" opacity="0.31" transform="rotate(6.0 995.8 366.2)"/><rect x="1126.5" y="457.3" width="15.4" height="15.4" rx="3.5" fill="#080808" opacity="0.27" transform="rotate(20.0 1134.2 465.0)"/><rect x="1088.9" y="390.2" width="14.3" height="14.3" rx="3.5" fill="#080808" opacity="0.18" transform="rotate(-1.4 1096.0 397.3)"/><rect x="1069.9" y="487.7" width="15.4" height="15.4" rx="3.5" fill="#080808" opacity="0.4" transform="rotate(32.0 1077.6 495.4)"/><rect x="1003.3" y="405.9" width="14.8" height="14.8" rx="3.5" fill="#080808" opacity="0.24" transform="rotate(-36.9 1010.7 413.3)"/><rect x="1077.2" y="495.6" width="13.1" height="13.1" rx="3.5" fill="#080808" opacity="0.33" transform="rotate(-16.7 1083.8 502.2)"/><rect x="1032.4" y="487.6" width="13.2" height="13.2" rx="3.5" fill="#080808" opacity="0.33" transform="rotate(26.8 1039.0 494.1)"/><rect x="1063.4" y="485.1" width="15.0" height="15.0" rx="3.5" fill="#080808" opacity="0.27" transform="rotate(-23.5 1070.9 492.7)"/><rect x="991.5" y="342.6" width="13.2" height="13.2" rx="3.5" fill="#080808" opacity="0.43" transform="rotate(-42.0 998.1 349.2)"/><rect x="963.3" y="352.9" width="13.4" height="13.4" rx="3.5" fill="#080808" opacity="0.47" transform="rotate(-13.7 970.0 359.6)"/><rect x="1023.2" y="487.8" width="14.8" height="14.8" rx="3.5" fill="#080808" opacity="0.33" transform="rotate(-9.6 1030.5 495.2)"/><rect x="990.9" y="465.7" width="15.3" height="15.3" rx="3.5" fill="#080808" opacity="0.3" transform="rotate(-36.4 998.5 473.4)"/><rect x="947.2" y="397.0" width="14.2" height="14.2" rx="3.5" fill="#080808" opacity="0.18" transform="rotate(2.0 954.3 404.1)"/><rect x="956.6" y="349.3" width="14.6" height="14.6" rx="3.5" fill="#080808" opacity="0.28" transform="rotate(36.9 963.9 356.6)"/><rect x="1089.9" y="407.5" width="15.0" height="15.0" rx="3.5" fill="#080808" opacity="0.26" transform="rotate(-30.9 1097.4 415.0)"/><rect x="918.6" y="323.6" width="13.2" height="13.2" rx="3.5" fill="#080808" opacity="0.25" transform="rotate(-36.9 925.2 330.2)"/><rect x="1029.0" y="377.9" width="14.8" height="14.8" rx="3.5" fill="#080808" opacity="0.47" transform="rotate(-30.9 1036.4 385.3)"/><rect x="957.2" y="316.6" width="14.7" height="14.7" rx="3.5" fill="#080808" opacity="0.26" transform="rotate(-40.9 964.5 324.0)"/><rect x="911.8" y="353.3" width="14.0" height="14.0" rx="3.5" fill="#080808" opacity="0.38" transform="rotate(32.8 918.8 360.3)"/><rect x="849.1" y="339.5" width="15.1" height="15.1" rx="3.5" fill="#080808" opacity="0.32" transform="rotate(43.6 856.7 347.0)"/><rect x="1062.1" y="451.8" width="14.4" height="14.4" rx="3.5" fill="#080808" opacity="0.43" transform="rotate(-35.2 1069.3 459.1)"/><rect x="1036.5" y="439.3" width="13.6" height="13.6" rx="3.5" fill="#080808" opacity="0.79" transform="rotate(-28.1 1043.2 446.1)"/><rect x="1001.6" y="485.4" width="15.4" height="15.4" rx="3.5" fill="#080808" opacity="0.44" transform="rotate(-44.9 1009.3 493.1)"/><rect x="904.9" y="459.6" width="13.0" height="13.0" rx="3.5" fill="#080808" opacity="0.39" transform="rotate(41.0 911.4 466.1)"/><rect x="922.4" y="340.2" width="13.8" height="13.8" rx="3.5" fill="#080808" opacity="0.42" transform="rotate(-20.2 929.3 347.1)"/><rect x="908.7" y="360.4" width="13.3" height="13.3" rx="3.5" fill="#080808" opacity="0.34" transform="rotate(2.8 915.4 367.1)"/><rect x="981.0" y="341.3" width="15.0" height="15.0" rx="3.5" fill="#080808" opacity="0.38" transform="rotate(8.6 988.4 348.8)"/><rect x="993.1" y="354.1" width="14.6" height="14.6" rx="3.5" fill="#080808" opacity="0.69" transform="rotate(29.2 1000.4 361.4)"/><rect x="977.8" y="416.2" width="14.6" height="14.6" rx="3.5" fill="#080808" opacity="0.8" transform="rotate(40.1 985.1 423.5)"/><rect x="893.3" y="295.2" width="13.9" height="13.9" rx="3.5" fill="#080808" opacity="0.32" transform="rotate(12.1 900.3 302.1)"/><rect x="1081.1" y="393.6" width="15.0" height="15.0" rx="3.5" fill="#080808" opacity="0.49" transform="rotate(9.0 1088.6 401.1)"/><rect x="988.6" y="372.7" width="13.5" height="13.5" rx="3.5" fill="#080808" opacity="0.42" transform="rotate(-42.0 995.4 379.4)"/><rect x="917.4" y="495.1" width="13.9" height="13.9" rx="3.5" fill="#080808" opacity="0.29" transform="rotate(-10.3 924.3 502.0)"/><rect x="897.9" y="378.3" width="14.4" height="14.4" rx="3.5" fill="#080808" opacity="0.28" transform="rotate(-33.7 905.1 385.5)"/><rect x="947.4" y="377.0" width="15.5" height="15.5" rx="3.5" fill="#080808" opacity="0.49" transform="rotate(-30.2 955.2 384.7)"/><rect x="993.1" y="488.2" width="14.0" height="14.0" rx="3.5" fill="#080808" opacity="0.24" transform="rotate(5.3 1000.1 495.2)"/><rect x="1020.4" y="435.2" width="14.7" height="14.7" rx="3.5" fill="#080808" opacity="0.23" transform="rotate(-44.0 1027.7 442.6)"/><rect x="1067.1" y="495.6" width="13.4" height="13.4" rx="3.5" fill="#080808" opacity="0.39" transform="rotate(38.7 1073.7 502.2)"/><rect x="1076.2" y="403.4" width="14.1" height="14.1" rx="3.5" fill="#080808" opacity="0.28" transform="rotate(27.7 1083.2 410.4)"/><rect x="976.2" y="330.9" width="15.4" height="15.4" rx="3.5" fill="#080808" opacity="0.37" transform="rotate(-27.7 983.9 338.6)"/><rect x="902.5" y="444.5" width="13.9" height="13.9" rx="3.5" fill="#080808" opacity="0.32" transform="rotate(-14.8 909.4 451.4)"/><rect x="963.5" y="477.4" width="14.9" height="14.9" rx="3.5" fill="#080808" opacity="0.66" transform="rotate(-12.4 971.0 484.8)"/><rect x="968.4" y="493.4" width="14.2" height="14.2" rx="3.5" fill="#080808" opacity="0.41" transform="rotate(1.1 975.5 500.5)"/><rect x="906.6" y="452.9" width="14.7" height="14.7" rx="3.5" fill="#080808" opacity="0.34" transform="rotate(21.5 913.9 460.2)"/><rect x="909.6" y="415.2" width="13.0" height="13.0" rx="3.5" fill="#080808" opacity="0.34" transform="rotate(29.9 916.1 421.7)"/><rect x="909.5" y="308.8" width="13.6" height="13.6" rx="3.5" fill="#080808" opacity="0.18" transform="rotate(-20.1 916.3 315.6)"/><rect x="881.0" y="376.1" width="14.9" height="14.9" rx="3.5" fill="#080808" opacity="0.44" transform="rotate(13.2 888.5 383.5)"/><rect x="1122.2" y="469.5" width="13.2" height="13.2" rx="3.5" fill="#080808" opacity="0.36" transform="rotate(-23.2 1128.8 476.1)"/><rect x="1046.7" y="384.7" width="14.8" height="14.8" rx="3.5" fill="#080808" opacity="0.19" transform="rotate(-22.8 1054.1 392.1)"/><rect x="1024.4" y="384.6" width="15.2" height="15.2" rx="3.5" fill="#080808" opacity="0.51" transform="rotate(5.0 1032.0 392.2)"/><rect x="1004.0" y="353.3" width="14.5" height="14.5" rx="3.5" fill="#080808" opacity="0.48" transform="rotate(-27.3 1011.3 360.5)"/><rect x="1028.6" y="370.8" width="15.1" height="15.1" rx="3.5" fill="#080808" opacity="0.36" transform="rotate(10.6 1036.2 378.4)"/><rect x="912.4" y="403.5" width="14.4" height="14.4" rx="3.5" fill="#080808" opacity="0.25" transform="rotate(-12.7 919.7 410.8)"/><rect x="873.9" y="332.8" width="14.6" height="14.6" rx="3.5" fill="#080808" opacity="0.51" transform="rotate(32.7 881.1 340.0)"/><rect x="865.7" y="308.2" width="14.5" height="14.5" rx="3.5" fill="#080808" opacity="0.44" transform="rotate(36.4 873.0 315.4)"/><rect x="862.2" y="423.3" width="15.4" height="15.4" rx="3.5" fill="#080808" opacity="0.18" transform="rotate(39.1 869.9 431.0)"/><rect x="993.4" y="510.3" width="14.2" height="14.2" rx="3.5" fill="#080808" opacity="0.2" transform="rotate(25.1 1000.5 517.4)"/><rect x="979.7" y="393.7" width="15.2" height="15.2" rx="3.5" fill="#080808" opacity="0.42" transform="rotate(11.4 987.3 401.3)"/><rect x="1092.1" y="468.3" width="14.1" height="14.1" rx="3.5" fill="#080808" opacity="0.45" transform="rotate(33.1 1099.1 475.3)"/><rect x="886.9" y="341.8" width="14.6" height="14.6" rx="3.5" fill="#080808" opacity="0.26" transform="rotate(-22.7 894.2 349.0)"/><rect x="883.2" y="422.2" width="13.3" height="13.3" rx="3.5" fill="#080808" opacity="0.3" transform="rotate(42.3 889.8 428.8)"/><rect x="901.9" y="412.3" width="13.4" height="13.4" rx="3.5" fill="#080808" opacity="0.36" transform="rotate(12.6 908.6 419.0)"/><rect x="1072.6" y="450.3" width="13.8" height="13.8" rx="3.5" fill="#080808" opacity="0.23" transform="rotate(-12.7 1079.5 457.2)"/><rect x="1099.5" y="402.5" width="15.2" height="15.2" rx="3.5" fill="#080808" opacity="0.26" transform="rotate(-32.4 1107.1 410.2)"/><rect x="935.4" y="478.7" width="13.6" height="13.6" rx="3.5" fill="#080808" opacity="0.34" transform="rotate(10.7 942.2 485.4)"/><rect x="1053.8" y="397.0" width="14.8" height="14.8" rx="3.5" fill="#080808" opacity="0.39" transform="rotate(-2.7 1061.2 404.4)"/><rect x="996.6" y="389.9" width="13.9" height="13.9" rx="3.5" fill="#080808" opacity="0.56" transform="rotate(-31.3 1003.6 396.9)"/><rect x="947.2" y="297.5" width="15.3" height="15.3" rx="3.5" fill="#080808" opacity="0.3" transform="rotate(23.2 954.8 305.1)"/><rect x="903.3" y="370.1" width="14.6" height="14.6" rx="3.5" fill="#080808" opacity="0.73" transform="rotate(17.4 910.6 377.4)"/><rect x="991.4" y="378.1" width="14.8" height="14.8" rx="3.5" fill="#080808" opacity="0.62" transform="rotate(-44.5 998.8 385.5)"/><rect x="878.1" y="290.7" width="14.6" height="14.6" rx="3.5" fill="#080808" opacity="0.2" transform="rotate(7.5 885.3 298.0)"/><rect x="1102.7" y="453.6" width="13.4" height="13.4" rx="3.5" fill="#080808" opacity="0.46" transform="rotate(25.6 1109.4 460.3)"/><rect x="951.2" y="306.5" width="14.3" height="14.3" rx="3.5" fill="#080808" opacity="0.33" transform="rotate(-22.7 958.4 313.7)"/><rect x="991.0" y="394.2" width="13.2" height="13.2" rx="3.5" fill="#080808" opacity="0.9" transform="rotate(33.3 997.6 400.8)"/><rect x="881.9" y="298.9" width="13.4" height="13.4" rx="3.5" fill="#080808" opacity="0.35" transform="rotate(-35.9 888.6 305.6)"/><rect x="1080.0" y="449.0" width="14.6" height="14.6" rx="3.5" fill="#080808" opacity="0.34" transform="rotate(-22.4 1087.3 456.3)"/><rect x="930.4" y="452.2" width="14.9" height="14.9" rx="3.5" fill="#080808" opacity="0.37" transform="rotate(-41.1 937.8 459.6)"/><rect x="998.9" y="393.8" width="14.1" height="14.1" rx="3.5" fill="#080808" opacity="0.41" transform="rotate(22.0 1006.0 400.8)"/><rect x="862.5" y="333.6" width="14.9" height="14.9" rx="3.5" fill="#080808" opacity="0.38" transform="rotate(-0.2 870.0 341.0)"/><rect x="900.0" y="398.6" width="14.7" height="14.7" rx="3.5" fill="#080808" opacity="0.18" transform="rotate(-3.8 907.3 406.0)"/><rect x="956.7" y="492.7" width="14.8" height="14.8" rx="3.5" fill="#080808" opacity="0.33" transform="rotate(-5.7 964.0 500.1)"/><rect x="987.3" y="514.7" width="14.7" height="14.7" rx="3.5" fill="#080808" opacity="0.23" transform="rotate(18.8 994.7 522.0)"/><rect x="1004.7" y="367.1" width="14.6" height="14.6" rx="3.5" fill="#080808" opacity="0.9" transform="rotate(-18.5 1012.0 374.4)"/><rect x="1023.6" y="478.1" width="14.6" height="14.6" rx="3.5" fill="#080808" opacity="0.65" transform="rotate(-8.8 1030.9 485.5)"/><rect x="923.6" y="457.6" width="14.3" height="14.3" rx="3.5" fill="#080808" opacity="0.38" transform="rotate(-6.4 930.8 464.7)"/><rect x="901.9" y="476.8" width="13.1" height="13.1" rx="3.5" fill="#080808" opacity="0.34" transform="rotate(10.3 908.5 483.4)"/><rect x="1017.6" y="390.2" width="13.7" height="13.7" rx="3.5" fill="#080808" opacity="0.9" transform="rotate(-0.5 1024.5 397.1)"/><rect x="893.4" y="336.2" width="13.1" height="13.1" rx="3.5" fill="#080808" opacity="0.35" transform="rotate(18.9 900.0 342.8)"/><rect x="887.7" y="363.8" width="13.7" height="13.7" rx="3.5" fill="#080808" opacity="0.47" transform="rotate(0.5 894.5 370.6)"/><rect x="849.9" y="322.9" width="14.8" height="14.8" rx="3.5" fill="#080808" opacity="0.23" transform="rotate(42.8 857.3 330.3)"/><rect x="912.5" y="460.8" width="14.1" height="14.1" rx="3.5" fill="#080808" opacity="0.23" transform="rotate(5.7 919.6 467.9)"/><rect x="954.3" y="299.0" width="13.7" height="13.7" rx="3.5" fill="#080808" opacity="0.74" transform="rotate(-12.0 961.1 305.8)"/><rect x="1070.6" y="380.5" width="13.9" height="13.9" rx="3.5" fill="#080808" opacity="0.32" transform="rotate(31.2 1077.6 387.5)"/><rect x="1005.9" y="497.3" width="14.2" height="14.2" rx="3.5" fill="#080808" opacity="0.4" transform="rotate(-40.1 1013.0 504.4)"/><rect x="871.4" y="395.9" width="14.4" height="14.4" rx="3.5" fill="#080808" opacity="0.26" transform="rotate(-40.5 878.6 403.1)"/><rect x="984.5" y="402.9" width="13.9" height="13.9" rx="3.5" fill="#080808" opacity="0.38" transform="rotate(-42.5 991.4 409.9)"/><rect x="863.0" y="405.4" width="15.0" height="15.0" rx="3.5" fill="#080808" opacity="0.26" transform="rotate(-27.0 870.5 412.9)"/><rect x="882.1" y="435.4" width="13.1" height="13.1" rx="3.5" fill="#080808" opacity="0.15" transform="rotate(5.8 888.6 442.0)"/><rect x="1010.1" y="362.0" width="13.0" height="13.0" rx="3.5" fill="#080808" opacity="0.37" transform="rotate(27.1 1016.6 368.6)"/><rect x="962.3" y="323.9" width="14.7" height="14.7" rx="3.5" fill="#080808" opacity="0.32" transform="rotate(-8.5 969.7 331.3)"/><rect x="1100.7" y="414.9" width="14.7" height="14.7" rx="3.5" fill="#080808" opacity="0.18" transform="rotate(-3.4 1108.0 422.2)"/><rect x="898.2" y="451.5" width="15.1" height="15.1" rx="3.5" fill="#080808" opacity="0.35" transform="rotate(-19.7 905.7 459.0)"/><rect x="959.9" y="308.6" width="15.2" height="15.2" rx="3.5" fill="#080808" opacity="0.46" transform="rotate(-26.8 967.5 316.2)"/><rect x="1089.2" y="425.4" width="13.0" height="13.0" rx="3.5" fill="#080808" opacity="0.13" transform="rotate(23.9 1095.7 431.9)"/><rect x="1028.5" y="457.7" width="14.7" height="14.7" rx="3.5" fill="#080808" opacity="0.31" transform="rotate(18.8 1035.9 465.1)"/><rect x="1052.8" y="485.9" width="15.5" height="15.5" rx="3.5" fill="#080808" opacity="0.32" transform="rotate(-39.1 1060.5 493.6)"/><rect x="1015.5" y="512.6" width="14.5" height="14.5" rx="3.5" fill="#080808" opacity="0.26" transform="rotate(27.3 1022.7 519.9)"/><rect x="968.3" y="489.3" width="14.3" height="14.3" rx="3.5" fill="#080808" opacity="0.44" transform="rotate(44.0 975.5 496.5)"/><rect x="1057.4" y="496.1" width="13.1" height="13.1" rx="3.5" fill="#080808" opacity="0.32" transform="rotate(3.3 1063.9 502.7)"/><rect x="938.4" y="485.2" width="14.4" height="14.4" rx="3.5" fill="#080808" opacity="0.33" transform="rotate(4.4 945.6 492.4)"/><rect x="877.3" y="393.5" width="14.5" height="14.5" rx="3.5" fill="#080808" opacity="0.27" transform="rotate(14.2 884.6 400.7)"/><rect x="974.7" y="421.9" width="14.9" height="14.9" rx="3.5" fill="#080808" opacity="0.18" transform="rotate(-19.2 982.1 429.4)"/><rect x="992.6" y="404.2" width="15.4" height="15.4" rx="3.5" fill="#080808" opacity="0.49" transform="rotate(36.9 1000.3 411.9)"/><rect x="1054.6" y="379.1" width="13.5" height="13.5" rx="3.5" fill="#080808" opacity="0.52" transform="rotate(13.9 1061.4 385.9)"/><rect x="1079.2" y="386.3" width="13.1" height="13.1" rx="3.5" fill="#080808" opacity="0.43" transform="rotate(9.9 1085.8 392.8)"/><rect x="901.3" y="425.6" width="14.6" height="14.6" rx="3.5" fill="#080808" opacity="0.45" transform="rotate(11.5 908.5 432.8)"/><rect x="1008.2" y="339.7" width="15.4" height="15.4" rx="3.5" fill="#080808" opacity="0.48" transform="rotate(-29.4 1015.9 347.4)"/><rect x="857.0" y="305.2" width="14.4" height="14.4" rx="3.5" fill="#080808" opacity="0.25" transform="rotate(30.1 864.2 312.4)"/><rect x="993.0" y="496.8" width="15.1" height="15.1" rx="3.5" fill="#080808" opacity="0.24" transform="rotate(-25.6 1000.6 504.4)"/><rect x="1082.2" y="376.7" width="14.6" height="14.6" rx="3.5" fill="#080808" opacity="0.14" transform="rotate(29.6 1089.5 384.0)"/><rect x="971.4" y="323.9" width="15.1" height="15.1" rx="3.5" fill="#080808" opacity="0.2" transform="rotate(-44.8 979.0 331.4)"/><rect x="1111.3" y="435.3" width="13.5" height="13.5" rx="3.5" fill="#080808" opacity="0.24" transform="rotate(11.2 1118.0 442.0)"/><rect x="891.9" y="370.6" width="15.3" height="15.3" rx="3.5" fill="#080808" opacity="0.48" transform="rotate(-27.7 899.5 378.2)"/><rect x="898.7" y="308.0" width="14.7" height="14.7" rx="3.5" fill="#080808" opacity="0.33" transform="rotate(2.8 906.0 315.3)"/><rect x="949.3" y="289.7" width="13.6" height="13.6" rx="3.5" fill="#080808" opacity="0.27" transform="rotate(-28.8 956.1 296.5)"/><rect x="1004.0" y="434.8" width="14.3" height="14.3" rx="3.5" fill="#080808" opacity="0.24" transform="rotate(28.5 1011.1 441.9)"/><rect x="1091.5" y="448.4" width="14.0" height="14.0" rx="3.5" fill="#080808" opacity="0.71" transform="rotate(-31.9 1098.5 455.4)"/><rect x="970.4" y="377.1" width="13.7" height="13.7" rx="3.5" fill="#080808" opacity="0.31" transform="rotate(34.7 977.2 383.9)"/><rect x="966.5" y="386.9" width="14.0" height="14.0" rx="3.5" fill="#080808" opacity="0.9" transform="rotate(-37.3 973.5 393.9)"/><rect x="891.6" y="407.5" width="14.0" height="14.0" rx="3.5" fill="#080808" opacity="0.3" transform="rotate(1.9 898.6 414.5)"/><rect x="989.5" y="323.9" width="14.5" height="14.5" rx="3.5" fill="#080808" opacity="0.72" transform="rotate(-12.5 996.7 331.1)"/><rect x="994.1" y="505.1" width="13.0" height="13.0" rx="3.5" fill="#080808" opacity="0.38" transform="rotate(25.3 1000.6 511.6)"/><rect x="961.5" y="285.9" width="15.2" height="15.2" rx="3.5" fill="#080808" opacity="0.42" transform="rotate(20.7 969.1 293.5)"/><rect x="904.4" y="318.1" width="13.8" height="13.8" rx="3.5" fill="#080808" opacity="0.44" transform="rotate(-25.6 911.3 324.9)"/><rect x="1100.9" y="485.7" width="13.8" height="13.8" rx="3.5" fill="#080808" opacity="0.29" transform="rotate(14.6 1107.8 492.6)"/><rect x="901.2" y="434.0" width="13.9" height="13.9" rx="3.5" fill="#080808" opacity="0.28" transform="rotate(8.5 908.2 441.0)"/><rect x="992.9" y="314.3" width="14.5" height="14.5" rx="3.5" fill="#080808" opacity="0.42" transform="rotate(-9.5 1000.1 321.5)"/><rect x="1025.0" y="355.1" width="13.1" height="13.1" rx="3.5" fill="#080808" opacity="0.27" transform="rotate(5.6 1031.6 361.7)"/><rect x="884.7" y="407.8" width="15.0" height="15.0" rx="3.5" fill="#080808" opacity="0.22" transform="rotate(-3.6 892.2 415.2)"/><rect x="902.6" y="407.5" width="14.5" height="14.5" rx="3.5" fill="#080808" opacity="0.41" transform="rotate(-28.0 909.9 414.7)"/><rect x="1060.7" y="403.5" width="13.0" height="13.0" rx="3.5" fill="#080808" opacity="0.79" transform="rotate(-27.1 1067.2 410.0)"/><rect x="1085.4" y="465.7" width="14.5" height="14.5" rx="3.5" fill="#080808" opacity="0.17" transform="rotate(-17.6 1092.6 473.0)"/><rect x="888.0" y="377.7" width="14.1" height="14.1" rx="3.5" fill="#080808" opacity="0.7" transform="rotate(4.8 895.1 384.7)"/><rect x="1066.9" y="479.8" width="15.2" height="15.2" rx="3.5" fill="#080808" opacity="0.31" transform="rotate(33.2 1074.5 487.4)"/><rect x="1038.5" y="474.2" width="15.3" height="15.3" rx="3.5" fill="#080808" opacity="0.33" transform="rotate(-11.2 1046.1 481.9)"/><rect x="908.5" y="322.9" width="15.4" height="15.4" rx="3.5" fill="#080808" opacity="0.43" transform="rotate(-4.5 916.2 330.6)"/><rect x="982.9" y="288.1" width="14.9" height="14.9" rx="3.5" fill="#080808" opacity="0.19" transform="rotate(6.6 990.4 295.5)"/><rect x="946.6" y="456.6" width="14.6" height="14.6" rx="3.5" fill="#080808" opacity="0.31" transform="rotate(5.9 954.0 463.9)"/><rect x="1023.8" y="504.6" width="14.5" height="14.5" rx="3.5" fill="#080808" opacity="0.35" transform="rotate(42.1 1031.0 511.9)"/><rect x="1028.8" y="433.9" width="14.0" height="14.0" rx="3.5" fill="#080808" opacity="0.38" transform="rotate(-36.1 1035.8 440.9)"/><rect x="981.9" y="326.5" width="14.8" height="14.8" rx="3.5" fill="#080808" opacity="0.25" transform="rotate(36.1 989.3 333.9)"/><rect x="958.0" y="477.1" width="14.3" height="14.3" rx="3.5" fill="#080808" opacity="0.31" transform="rotate(-20.3 965.2 484.2)"/><rect x="860.7" y="375.9" width="14.1" height="14.1" rx="3.5" fill="#080808" opacity="0.25" transform="rotate(4.0 867.7 382.9)"/><rect x="922.2" y="333.6" width="14.8" height="14.8" rx="3.5" fill="#080808" opacity="0.67" transform="rotate(13.3 929.6 341.0)"/><rect x="1051.3" y="448.5" width="14.2" height="14.2" rx="3.5" fill="#080808" opacity="0.16" transform="rotate(43.2 1058.4 455.6)"/><rect x="940.1" y="465.4" width="14.8" height="14.8" rx="3.5" fill="#080808" opacity="0.32" transform="rotate(-15.2 947.5 472.8)"/><rect x="1064.8" y="421.3" width="15.1" height="15.1" rx="3.5" fill="#080808" opacity="0.26" transform="rotate(1.6 1072.3 428.9)"/><rect x="918.9" y="468.3" width="14.1" height="14.1" rx="3.5" fill="#080808" opacity="0.88" transform="rotate(-24.4 926.0 475.4)"/><rect x="1107.2" y="444.1" width="13.2" height="13.2" rx="3.5" fill="#080808" opacity="0.44" transform="rotate(-18.8 1113.8 450.7)"/><rect x="958.8" y="412.6" width="14.6" height="14.6" rx="3.5" fill="#080808" opacity="0.43" transform="rotate(-27.7 966.0 419.9)"/><rect x="946.1" y="370.6" width="13.1" height="13.1" rx="3.5" fill="#080808" opacity="0.19" transform="rotate(-35.4 952.6 377.2)"/><rect x="1000.8" y="341.1" width="15.5" height="15.5" rx="3.5" fill="#080808" opacity="0.22" transform="rotate(-21.2 1008.5 348.8)"/><rect x="1108.5" y="403.7" width="13.1" height="13.1" rx="3.5" fill="#080808" opacity="0.49" transform="rotate(-38.2 1115.0 410.3)"/><rect x="881.9" y="350.6" width="14.2" height="14.2" rx="3.5" fill="#080808" opacity="0.9" transform="rotate(-1.5 889.0 357.7)"/><rect x="890.7" y="308.1" width="15.0" height="15.0" rx="3.5" fill="#080808" opacity="0.81" transform="rotate(-29.5 898.2 315.6)"/><rect x="975.3" y="372.1" width="13.2" height="13.2" rx="3.5" fill="#080808" opacity="0.73" transform="rotate(33.1 981.9 378.7)"/><rect x="1041.4" y="502.9" width="15.0" height="15.0" rx="3.5" fill="#080808" opacity="0.23" transform="rotate(-18.2 1048.9 510.4)"/><rect x="895.0" y="425.5" width="15.5" height="15.5" rx="3.5" fill="#080808" opacity="0.78" transform="rotate(42.6 902.8 433.3)"/><rect x="1087.2" y="460.3" width="13.9" height="13.9" rx="3.5" fill="#080808" opacity="0.18" transform="rotate(-43.6 1094.1 467.3)"/><rect x="973.6" y="349.7" width="14.2" height="14.2" rx="3.5" fill="#080808" opacity="0.46" transform="rotate(27.4 980.7 356.9)"/><rect x="1013.6" y="471.2" width="13.2" height="13.2" rx="3.5" fill="#080808" opacity="0.38" transform="rotate(41.7 1020.2 477.8)"/><rect x="1073.8" y="413.0" width="14.4" height="14.4" rx="3.5" fill="#080808" opacity="0.48" transform="rotate(2.1 1081.0 420.2)"/><rect x="978.5" y="308.3" width="13.4" height="13.4" rx="3.5" fill="#080808" opacity="0.9" transform="rotate(19.5 985.2 315.0)"/><rect x="893.3" y="353.3" width="14.6" height="14.6" rx="3.5" fill="#080808" opacity="0.35" transform="rotate(-36.8 900.5 360.6)"/><rect x="895.7" y="439.0" width="13.4" height="13.4" rx="3.5" fill="#080808" opacity="0.14" transform="rotate(-12.7 902.4 445.7)"/><rect x="1043.9" y="407.8" width="14.8" height="14.8" rx="3.5" fill="#080808" opacity="0.31" transform="rotate(13.2 1051.3 415.2)"/><rect x="873.3" y="368.7" width="15.4" height="15.4" rx="3.5" fill="#080808" opacity="0.41" transform="rotate(-18.4 881.0 376.4)"/><rect x="1102.8" y="399.1" width="13.9" height="13.9" rx="3.5" fill="#080808" opacity="0.35" transform="rotate(24.4 1109.8 406.0)"/><rect x="876.6" y="414.1" width="14.9" height="14.9" rx="3.5" fill="#080808" opacity="0.35" transform="rotate(42.4 884.1 421.5)"/><rect x="865.7" y="300.7" width="14.0" height="14.0" rx="3.5" fill="#080808" opacity="0.32" transform="rotate(-9.1 872.7 307.7)"/><rect x="985.9" y="425.1" width="13.5" height="13.5" rx="3.5" fill="#080808" opacity="0.33" transform="rotate(18.9 992.6 431.8)"/><rect x="958.3" y="362.1" width="14.3" height="14.3" rx="3.5" fill="#080808" opacity="0.9" transform="rotate(-17.1 965.5 369.3)"/><rect x="925.2" y="441.1" width="13.6" height="13.6" rx="3.5" fill="#080808" opacity="0.27" transform="rotate(-41.9 932.0 447.9)"/><rect x="1043.7" y="393.9" width="14.5" height="14.5" rx="3.5" fill="#080808" opacity="0.36" transform="rotate(41.2 1050.9 401.2)"/><rect x="858.5" y="324.3" width="13.7" height="13.7" rx="3.5" fill="#080808" opacity="0.47" transform="rotate(-40.8 865.4 331.2)"/><rect x="954.7" y="403.3" width="13.1" height="13.1" rx="3.5" fill="#080808" opacity="0.4" transform="rotate(-42.0 961.2 409.9)"/><rect x="1126.2" y="439.4" width="14.8" height="14.8" rx="3.5" fill="#080808" opacity="0.21" transform="rotate(4.7 1133.7 446.8)"/><rect x="970.7" y="306.9" width="13.2" height="13.2" rx="3.5" fill="#080808" opacity="0.42" transform="rotate(-23.3 977.3 313.5)"/><rect x="970.1" y="339.4" width="15.1" height="15.1" rx="3.5" fill="#080808" opacity="0.34" transform="rotate(24.6 977.6 346.9)"/><rect x="927.7" y="351.0" width="14.0" height="14.0" rx="3.5" fill="#080808" opacity="0.35" transform="rotate(39.8 934.7 358.0)"/><rect x="916.7" y="440.6" width="14.1" height="14.1" rx="3.5" fill="#080808" opacity="0.17" transform="rotate(37.2 923.7 447.6)"/><rect x="1100.8" y="385.3" width="13.3" height="13.3" rx="3.5" fill="#080808" opacity="0.31" transform="rotate(-36.5 1107.5 391.9)"/><rect x="854.7" y="352.6" width="14.5" height="14.5" rx="3.5" fill="#080808" opacity="0.45" transform="rotate(10.8 861.9 359.8)"/><rect x="1077.0" y="457.5" width="14.2" height="14.2" rx="3.5" fill="#080808" opacity="0.28" transform="rotate(-36.6 1084.1 464.6)"/><rect x="921.2" y="451.0" width="14.7" height="14.7" rx="3.5" fill="#080808" opacity="0.22" transform="rotate(-26.5 928.6 458.3)"/><rect x="993.1" y="287.8" width="14.2" height="14.2" rx="3.5" fill="#080808" opacity="0.33" transform="rotate(26.7 1000.3 294.9)"/><rect x="988.0" y="413.5" width="15.2" height="15.2" rx="3.5" fill="#080808" opacity="0.31" transform="rotate(-21.0 995.5 421.1)"/><rect x="920.3" y="359.8" width="14.3" height="14.3" rx="3.5" fill="#080808" opacity="0.33" transform="rotate(17.0 927.4 367.0)"/><rect x="1095.0" y="397.8" width="14.5" height="14.5" rx="3.5" fill="#080808" opacity="0.24" transform="rotate(-17.2 1102.2 405.1)"/><rect x="897.7" y="468.1" width="14.2" height="14.2" rx="3.5" fill="#080808" opacity="0.27" transform="rotate(-1.4 904.8 475.2)"/><rect x="1100.0" y="467.8" width="15.2" height="15.2" rx="3.5" fill="#080808" opacity="0.32" transform="rotate(4.2 1107.6 475.4)"/><rect x="1008.2" y="514.3" width="15.2" height="15.2" rx="3.5" fill="#080808" opacity="0.21" transform="rotate(-40.5 1015.7 521.9)"/><rect x="983.1" y="384.9" width="13.7" height="13.7" rx="3.5" fill="#080808" opacity="0.73" transform="rotate(9.7 990.0 391.8)"/><rect x="897.8" y="357.7" width="14.6" height="14.6" rx="3.5" fill="#080808" opacity="0.33" transform="rotate(-20.0 905.1 365.0)"/><rect x="960.9" y="376.4" width="15.0" height="15.0" rx="3.5" fill="#080808" opacity="0.37" transform="rotate(21.0 968.3 383.9)"/><rect x="870.8" y="362.3" width="13.2" height="13.2" rx="3.5" fill="#080808" opacity="0.3" transform="rotate(-13.4 877.4 368.9)"/><rect x="879.7" y="358.1" width="15.3" height="15.3" rx="3.5" fill="#080808" opacity="0.41" transform="rotate(-3.9 887.3 365.8)"/><rect x="872.6" y="423.5" width="13.3" height="13.3" rx="3.5" fill="#080808" opacity="0.29" transform="rotate(-28.1 879.2 430.2)"/><rect x="870.6" y="298.1" width="15.5" height="15.5" rx="3.5" fill="#080808" opacity="0.17" transform="rotate(-5.3 878.3 305.8)"/><rect x="922.7" y="485.1" width="13.4" height="13.4" rx="3.5" fill="#080808" opacity="0.53" transform="rotate(-21.2 929.4 491.8)"/><rect x="976.2" y="314.6" width="13.5" height="13.5" rx="3.5" fill="#080808" opacity="0.42" transform="rotate(-28.5 983.0 321.4)"/><rect x="859.9" y="362.8" width="13.7" height="13.7" rx="3.5" fill="#080808" opacity="0.34" transform="rotate(28.0 866.8 369.7)"/><rect x="1050.9" y="467.2" width="13.5" height="13.5" rx="3.5" fill="#080808" opacity="0.33" transform="rotate(35.0 1057.7 473.9)"/><rect x="861.1" y="350.3" width="15.5" height="15.5" rx="3.5" fill="#080808" opacity="0.3" transform="rotate(-41.6 868.8 358.0)"/><rect x="1011.2" y="501.5" width="14.9" height="14.9" rx="3.5" fill="#080808" opacity="0.36" transform="rotate(23.9 1018.6 509.0)"/><rect x="1116.1" y="460.6" width="14.8" height="14.8" rx="3.5" fill="#080808" opacity="0.7" transform="rotate(-44.0 1123.5 468.0)"/><rect x="1115.1" y="451.7" width="14.6" height="14.6" rx="3.5" fill="#080808" opacity="0.25" transform="rotate(-12.9 1122.4 459.0)"/><rect x="892.4" y="476.8" width="15.4" height="15.4" rx="3.5" fill="#080808" opacity="0.28" transform="rotate(33.6 900.1 484.5)"/><rect x="1016.6" y="352.5" width="13.4" height="13.4" rx="3.5" fill="#080808" opacity="0.44" transform="rotate(-12.7 1023.3 359.2)"/><rect x="1069.8" y="467.1" width="14.4" height="14.4" rx="3.5" fill="#080808" opacity="0.43" transform="rotate(14.3 1077.0 474.3)"/><rect x="1018.7" y="422.4" width="15.2" height="15.2" rx="3.5" fill="#080808" opacity="0.23" transform="rotate(-23.5 1026.3 430.0)"/><rect x="1084.3" y="412.6" width="13.4" height="13.4" rx="3.5" fill="#080808" opacity="0.45" transform="rotate(-20.4 1091.0 419.3)"/><rect x="1048.6" y="513.6" width="14.6" height="14.6" rx="3.5" fill="#080808" opacity="0.67" transform="rotate(39.4 1055.9 520.9)"/><rect x="1009.4" y="434.7" width="14.6" height="14.6" rx="3.5" fill="#080808" opacity="0.21" transform="rotate(9.3 1016.6 442.0)"/><rect x="958.5" y="507.0" width="14.6" height="14.6" rx="3.5" fill="#080808" opacity="0.21" transform="rotate(-24.9 965.8 514.3)"/><rect x="1016.0" y="368.8" width="13.1" height="13.1" rx="3.5" fill="#080808" opacity="0.43" transform="rotate(23.4 1022.5 375.4)"/><rect x="961.7" y="397.7" width="15.3" height="15.3" rx="3.5" fill="#080808" opacity="0.57" transform="rotate(-4.8 969.3 405.4)"/><rect x="1009.7" y="451.8" width="15.4" height="15.4" rx="3.5" fill="#080808" opacity="0.68" transform="rotate(15.9 1017.4 459.5)"/><rect x="968.7" y="408.1" width="13.5" height="13.5" rx="3.5" fill="#080808" opacity="0.46" transform="rotate(38.3 975.4 414.9)"/><rect x="992.2" y="305.0" width="13.5" height="13.5" rx="3.5" fill="#080808" opacity="0.45" transform="rotate(40.7 999.0 311.8)"/><rect x="865.5" y="371.9" width="14.8" height="14.8" rx="3.5" fill="#080808" opacity="0.29" transform="rotate(-21.1 872.8 379.3)"/><rect x="920.0" y="413.0" width="13.5" height="13.5" rx="3.5" fill="#080808" opacity="0.24" transform="rotate(6.4 926.8 419.8)"/><rect x="1099.6" y="442.4" width="14.6" height="14.6" rx="3.5" fill="#080808" opacity="0.18" transform="rotate(17.9 1106.9 449.7)"/><rect x="1069.4" y="406.6" width="13.3" height="13.3" rx="3.5" fill="#080808" opacity="0.49" transform="rotate(-15.8 1076.0 413.2)"/><rect x="867.9" y="412.0" width="15.2" height="15.2" rx="3.5" fill="#080808" opacity="0.41" transform="rotate(15.1 875.5 419.6)"/><rect x="851.3" y="332.0" width="14.9" height="14.9" rx="3.5" fill="#080808" opacity="0.18" transform="rotate(-7.8 858.7 339.4)"/><rect x="1105.2" y="461.8" width="15.3" height="15.3" rx="3.5" fill="#080808" opacity="0.19" transform="rotate(33.4 1112.8 469.5)"/><rect x="869.6" y="323.3" width="13.6" height="13.6" rx="3.5" fill="#080808" opacity="0.39" transform="rotate(21.9 876.4 330.1)"/><rect x="1048.2" y="479.8" width="13.7" height="13.7" rx="3.5" fill="#080808" opacity="0.22" transform="rotate(-6.0 1055.0 486.7)"/><rect x="874.2" y="314.4" width="13.4" height="13.4" rx="3.5" fill="#080808" opacity="0.53" transform="rotate(-13.8 880.9 321.2)"/><rect x="973.9" y="402.7" width="15.0" height="15.0" rx="3.5" fill="#080808" opacity="0.52" transform="rotate(41.7 981.4 410.3)"/><rect x="1052.6" y="415.1" width="13.6" height="13.6" rx="3.5" fill="#080808" opacity="0.16" transform="rotate(-28.6 1059.4 421.9)"/><rect x="980.2" y="375.5" width="14.7" height="14.7" rx="3.5" fill="#080808" opacity="0.56" transform="rotate(0.0 987.6 382.8)"/><rect x="1027.9" y="443.0" width="14.4" height="14.4" rx="3.5" fill="#080808" opacity="0.55" transform="rotate(-17.0 1035.1 450.2)"/><rect x="963.4" y="299.5" width="14.3" height="14.3" rx="3.5" fill="#080808" opacity="0.9" transform="rotate(12.3 970.5 306.6)"/><rect x="901.9" y="352.7" width="14.7" height="14.7" rx="3.5" fill="#080808" opacity="0.4" transform="rotate(-7.4 909.3 360.0)"/><rect x="916.1" y="476.7" width="13.5" height="13.5" rx="3.5" fill="#080808" opacity="0.32" transform="rotate(2.7 922.8 483.5)"/><rect x="975.9" y="299.2" width="15.0" height="15.0" rx="3.5" fill="#080808" opacity="0.35" transform="rotate(28.6 983.4 306.7)"/><rect x="1029.9" y="449.1" width="15.2" height="15.2" rx="3.5" fill="#080808" opacity="0.21" transform="rotate(-17.6 1037.5 456.7)"/><rect x="1031.2" y="507.4" width="13.4" height="13.4" rx="3.5" fill="#080808" opacity="0.17" transform="rotate(-13.5 1037.9 514.1)"/><rect x="1017.1" y="494.4" width="15.0" height="15.0" rx="3.5" fill="#080808" opacity="0.4" transform="rotate(33.5 1024.6 502.0)"/><rect x="949.0" y="359.6" width="14.9" height="14.9" rx="3.5" fill="#080808" opacity="0.32" transform="rotate(-5.2 956.5 367.0)"/><rect x="994.7" y="474.8" width="15.1" height="15.1" rx="3.5" fill="#080808" opacity="0.49" transform="rotate(25.1 1002.3 482.4)"/><rect x="1120.4" y="477.9" width="15.4" height="15.4" rx="3.5" fill="#080808" opacity="0.18" transform="rotate(-44.2 1128.1 485.6)"/><rect x="887.0" y="372.6" width="13.0" height="13.0" rx="3.5" fill="#080808" opacity="0.41" transform="rotate(-21.6 893.5 379.1)"/><rect x="960.7" y="485.8" width="14.0" height="14.0" rx="3.5" fill="#080808" opacity="0.72" transform="rotate(-8.1 967.6 492.8)"/><rect x="1002.4" y="452.1" width="13.4" height="13.4" rx="3.5" fill="#080808" opacity="0.34" transform="rotate(5.7 1009.0 458.8)"/><rect x="967.0" y="395.3" width="15.5" height="15.5" rx="3.5" fill="#080808" opacity="0.63" transform="rotate(-2.2 974.7 403.0)"/><rect x="1018.8" y="397.1" width="14.7" height="14.7" rx="3.5" fill="#080808" opacity="0.4" transform="rotate(35.1 1026.1 404.5)"/><rect x="1050.0" y="505.1" width="13.3" height="13.3" rx="3.5" fill="#080808" opacity="0.46" transform="rotate(-30.5 1056.6 511.8)"/><rect x="975.5" y="386.1" width="15.1" height="15.1" rx="3.5" fill="#080808" opacity="0.62" transform="rotate(12.0 983.1 393.7)"/><rect x="1012.7" y="488.4" width="14.4" height="14.4" rx="3.5" fill="#080808" opacity="0.47" transform="rotate(-10.8 1019.9 495.6)"/><rect x="1038.9" y="429.6" width="14.4" height="14.4" rx="3.5" fill="#080808" opacity="0.63" transform="rotate(-21.1 1046.1 436.8)"/><rect x="842.7" y="334.2" width="13.9" height="13.9" rx="3.5" fill="#080808" opacity="0.2" transform="rotate(-36.8 849.7 341.2)"/><rect x="871.3" y="431.8" width="13.6" height="13.6" rx="3.5" fill="#080808" opacity="0.55" transform="rotate(-15.7 878.1 438.6)"/><rect x="1039.8" y="449.5" width="13.8" height="13.8" rx="3.5" fill="#080808" opacity="0.23" transform="rotate(-2.8 1046.7 456.4)"/><rect x="878.6" y="309.8" width="13.4" height="13.4" rx="3.5" fill="#080808" opacity="0.43" transform="rotate(0.9 885.3 316.5)"/><rect x="986.9" y="295.9" width="14.8" height="14.8" rx="3.5" fill="#080808" opacity="0.39" transform="rotate(44.1 994.3 303.3)"/><rect x="906.1" y="470.0" width="15.0" height="15.0" rx="3.5" fill="#080808" opacity="0.46" transform="rotate(16.2 913.6 477.5)"/><rect x="1130.3" y="450.2" width="15.5" height="15.5" rx="3.5" fill="#080808" opacity="0.44" transform="rotate(-8.7 1138.0 458.0)"/><rect x="887.5" y="465.6" width="15.5" height="15.5" rx="3.5" fill="#080808" opacity="0.31" transform="rotate(23.5 895.3 473.4)"/><rect x="1055.8" y="475.9" width="13.7" height="13.7" rx="3.5" fill="#080808" opacity="0.48" transform="rotate(34.1 1062.7 482.7)"/><rect x="852.6" y="318.3" width="14.3" height="14.3" rx="3.5" fill="#080808" opacity="0.17" transform="rotate(-23.5 859.8 325.4)"/><rect x="966.4" y="513.3" width="15.4" height="15.4" rx="3.5" fill="#080808" opacity="0.24" transform="rotate(-7.9 974.1 521.0)"/><rect x="1112.0" y="485.2" width="14.1" height="14.1" rx="3.5" fill="#080808" opacity="0.14" transform="rotate(-1.9 1119.1 492.2)"/><rect x="916.2" y="420.7" width="14.3" height="14.3" rx="3.5" fill="#080808" opacity="0.14" transform="rotate(-6.0 923.3 427.9)"/><rect x="865.9" y="345.2" width="14.9" height="14.9" rx="3.5" fill="#080808" opacity="0.4" transform="rotate(-17.2 873.3 352.6)"/><rect x="1130.6" y="465.8" width="15.0" height="15.0" rx="3.5" fill="#080808" opacity="0.12" transform="rotate(33.8 1138.1 473.3)"/><rect x="1046.8" y="421.1" width="13.9" height="13.9" rx="3.5" fill="#080808" opacity="0.23" transform="rotate(23.7 1053.7 428.0)"/><rect x="1070.0" y="504.5" width="14.8" height="14.8" rx="3.5" fill="#080808" opacity="0.26" transform="rotate(21.1 1077.4 511.9)"/><rect x="999.8" y="360.7" width="14.5" height="14.5" rx="3.5" fill="#080808" opacity="0.55" transform="rotate(8.0 1007.0 367.9)"/><rect x="910.9" y="394.3" width="14.1" height="14.1" rx="3.5" fill="#080808" opacity="0.13" transform="rotate(-35.9 918.0 401.3)"/><rect x="907.1" y="334.1" width="13.2" height="13.2" rx="3.5" fill="#080808" opacity="0.24" transform="rotate(38.7 913.7 340.7)"/><rect x="912.6" y="313.8" width="14.6" height="14.6" rx="3.5" fill="#080808" opacity="0.43" transform="rotate(-8.6 919.9 321.1)"/><rect x="1117.6" y="442.7" width="13.1" height="13.1" rx="3.5" fill="#080808" opacity="0.37" transform="rotate(-41.4 1124.1 449.2)"/><rect x="906.5" y="298.0" width="15.1" height="15.1" rx="3.5" fill="#080808" opacity="0.15" transform="rotate(44.4 914.0 305.6)"/><rect x="982.2" y="488.1" width="13.5" height="13.5" rx="3.5" fill="#080808" opacity="0.9" transform="rotate(-34.5 989.0 494.9)"/><rect x="985.2" y="313.7" width="13.5" height="13.5" rx="3.5" fill="#080808" opacity="0.61" transform="rotate(0.4 991.9 320.4)"/><rect x="1014.9" y="457.7" width="14.4" height="14.4" rx="3.5" fill="#080808" opacity="0.21" transform="rotate(-34.9 1022.1 464.9)"/><rect x="897.4" y="486.6" width="14.3" height="14.3" rx="3.5" fill="#080808" opacity="0.34" transform="rotate(-34.9 904.5 493.7)"/><rect x="875.6" y="408.7" width="13.1" height="13.1" rx="3.5" fill="#080808" opacity="0.4" transform="rotate(-9.4 882.2 415.3)"/><rect x="899.1" y="322.7" width="13.8" height="13.8" rx="3.5" fill="#080808" opacity="0.34" transform="rotate(-37.3 906.0 329.6)"/><rect x="1067.8" y="388.7" width="14.1" height="14.1" rx="3.5" fill="#080808" opacity="0.33" transform="rotate(45.0 1074.9 395.7)"/><rect x="1030.7" y="358.9" width="15.1" height="15.1" rx="3.5" fill="#080808" opacity="0.42" transform="rotate(35.3 1038.2 366.4)"/><rect x="1003.0" y="506.3" width="15.2" height="15.2" rx="3.5" fill="#080808" opacity="0.34" transform="rotate(8.8 1010.5 513.9)"/><rect x="999.4" y="468.1" width="13.9" height="13.9" rx="3.5" fill="#080808" opacity="0.16" transform="rotate(-19.7 1006.4 475.1)"/><rect x="999.2" y="380.4" width="14.9" height="14.9" rx="3.5" fill="#080808" opacity="0.62" transform="rotate(-7.1 1006.7 387.9)"/><rect x="1079.0" y="440.3" width="15.3" height="15.3" rx="3.5" fill="#080808" opacity="0.48" transform="rotate(24.7 1086.6 448.0)"/><rect x="979.5" y="467.2" width="13.9" height="13.9" rx="3.5" fill="#080808" opacity="0.24" transform="rotate(6.6 986.4 474.2)"/><rect x="949.8" y="470.9" width="14.4" height="14.4" rx="3.5" fill="#080808" opacity="0.25" transform="rotate(-15.0 957.0 478.1)"/><rect x="975.0" y="510.8" width="14.3" height="14.3" rx="3.5" fill="#080808" opacity="0.42" transform="rotate(-30.0 982.1 517.9)"/><rect x="1092.5" y="489.0" width="13.4" height="13.4" rx="3.5" fill="#080808" opacity="0.23" transform="rotate(-22.4 1099.2 495.7)"/><rect x="971.1" y="502.3" width="13.5" height="13.5" rx="3.5" fill="#080808" opacity="0.5" transform="rotate(-15.0 977.9 509.0)"/><rect x="1040.9" y="469.6" width="14.2" height="14.2" rx="3.5" fill="#080808" opacity="0.69" transform="rotate(-11.9 1048.0 476.7)"/><rect x="1038.7" y="404.1" width="13.1" height="13.1" rx="3.5" fill="#080808" opacity="0.23" transform="rotate(4.8 1045.2 410.7)"/><rect x="935.8" y="494.4" width="14.1" height="14.1" rx="3.5" fill="#080808" opacity="0.6" transform="rotate(-9.6 942.9 501.4)"/><rect x="1042.3" y="488.4" width="15.3" height="15.3" rx="3.5" fill="#080808" opacity="0.38" transform="rotate(-2.4 1050.0 496.0)"/><rect x="978.0" y="475.2" width="15.3" height="15.3" rx="3.5" fill="#080808" opacity="0.2" transform="rotate(11.2 985.6 482.9)"/><rect x="910.8" y="502.7" width="13.3" height="13.3" rx="3.5" fill="#080808" opacity="0.33" transform="rotate(-30.6 917.5 509.4)"/><rect x="1056.7" y="514.2" width="15.4" height="15.4" rx="3.5" fill="#080808" opacity="0.38" transform="rotate(-34.6 1064.4 521.9)"/><rect x="1015.3" y="404.0" width="14.3" height="14.3" rx="3.5" fill="#080808" opacity="0.51" transform="rotate(-28.6 1022.4 411.1)"/><rect x="983.9" y="478.0" width="13.5" height="13.5" rx="3.5" fill="#080808" opacity="0.83" transform="rotate(39.6 990.6 484.8)"/><rect x="997.1" y="297.1" width="15.4" height="15.4" rx="3.5" fill="#080808" opacity="0.4" transform="rotate(-4.7 1004.8 304.8)"/><rect x="1064.5" y="378.5" width="13.1" height="13.1" rx="3.5" fill="#080808" opacity="0.15" transform="rotate(3.9 1071.1 385.1)"/><rect x="917.3" y="334.2" width="13.6" height="13.6" rx="3.5" fill="#080808" opacity="0.36" transform="rotate(-35.2 924.1 341.0)"/><rect x="1007.1" y="441.4" width="13.6" height="13.6" rx="3.5" fill="#080808" opacity="0.4" transform="rotate(9.7 1013.9 448.2)"/><rect x="958.3" y="369.3" width="13.1" height="13.1" rx="3.5" fill="#080808" opacity="0.25" transform="rotate(-32.5 964.9 375.9)"/><rect x="1107.4" y="479.1" width="14.1" height="14.1" rx="3.5" fill="#080808" opacity="0.23" transform="rotate(-32.4 1114.5 486.2)"/><rect x="1022.3" y="359.9" width="15.2" height="15.2" rx="3.5" fill="#080808" opacity="0.29" transform="rotate(25.4 1029.8 367.5)"/><rect x="962.6" y="341.7" width="15.0" height="15.0" rx="3.5" fill="#080808" opacity="0.36" transform="rotate(-33.1 970.1 349.2)"/><rect x="998.7" y="334.6" width="14.3" height="14.3" rx="3.5" fill="#080808" opacity="0.36" transform="rotate(4.2 1005.9 341.7)"/><rect x="907.8" y="485.7" width="15.4" height="15.4" rx="3.5" fill="#080808" opacity="0.33" transform="rotate(31.8 915.5 493.4)"/><rect x="1009.5" y="379.8" width="14.6" height="14.6" rx="3.5" fill="#080808" opacity="0.9" transform="rotate(7.5 1016.8 387.1)"/><rect x="977.5" y="496.3" width="14.4" height="14.4" rx="3.5" fill="#080808" opacity="0.44" transform="rotate(38.3 984.6 503.5)"/><rect x="1062.1" y="502.0" width="13.2" height="13.2" rx="3.5" fill="#080808" opacity="0.41" transform="rotate(13.2 1068.8 508.6)"/><rect x="1035.0" y="514.1" width="14.9" height="14.9" rx="3.5" fill="#080808" opacity="0.15" transform="rotate(29.9 1042.5 521.6)"/><rect x="889.0" y="413.6" width="13.2" height="13.2" rx="3.5" fill="#080808" opacity="0.3" transform="rotate(-19.0 895.6 420.2)"/><rect x="1093.1" y="415.5" width="13.3" height="13.3" rx="3.5" fill="#080808" opacity="0.16" transform="rotate(-8.5 1099.8 422.2)"/><rect x="1070.6" y="460.7" width="13.3" height="13.3" rx="3.5" fill="#080808" opacity="0.36" transform="rotate(29.7 1077.2 467.3)"/><rect x="915.3" y="372.5" width="14.3" height="14.3" rx="3.5" fill="#080808" opacity="0.58" transform="rotate(-44.4 922.5 379.7)"/><rect x="1086.9" y="476.8" width="13.4" height="13.4" rx="3.5" fill="#080808" opacity="0.21" transform="rotate(16.4 1093.6 483.5)"/><rect x="1048.7" y="461.4" width="13.2" height="13.2" rx="3.5" fill="#080808" opacity="0.49" transform="rotate(-8.3 1055.3 468.0)"/><rect x="886.8" y="290.0" width="13.1" height="13.1" rx="3.5" fill="#080808" opacity="0.19" transform="rotate(32.3 893.4 296.5)"/><rect x="1015.2" y="444.2" width="13.2" height="13.2" rx="3.5" fill="#080808" opacity="0.46" transform="rotate(31.7 1021.8 450.8)"/><rect x="893.7" y="313.9" width="15.0" height="15.0" rx="3.5" fill="#080808" opacity="0.55" transform="rotate(-6.1 901.2 321.4)"/><rect x="969.4" y="411.7" width="14.0" height="14.0" rx="3.5" fill="#080808" opacity="0.43" transform="rotate(19.9 976.4 418.7)"/><rect x="880.9" y="314.3" width="14.3" height="14.3" rx="3.5" fill="#080808" opacity="0.55" transform="rotate(43.0 888.0 321.4)"/><rect x="926.7" y="483.2" width="15.0" height="15.0" rx="3.5" fill="#080808" opacity="0.4" transform="rotate(40.7 934.2 490.7)"/><rect x="1013.4" y="395.3" width="15.1" height="15.1" rx="3.5" fill="#080808" opacity="0.58" transform="rotate(20.7 1020.9 402.9)"/><rect x="979.0" y="359.4" width="14.3" height="14.3" rx="3.5" fill="#080808" opacity="0.56" transform="rotate(35.6 986.1 366.6)"/><rect x="1003.9" y="333.8" width="13.1" height="13.1" rx="3.5" fill="#080808" opacity="0.18" transform="rotate(-0.2 1010.5 340.4)"/><rect x="891.9" y="390.0" width="15.1" height="15.1" rx="3.5" fill="#080808" opacity="0.34" transform="rotate(26.6 899.5 397.5)"/><rect x="933.8" y="337.8" width="14.5" height="14.5" rx="3.5" fill="#080808" opacity="0.36" transform="rotate(15.7 941.0 345.0)"/><rect x="938.8" y="306.8" width="14.5" height="14.5" rx="3.5" fill="#080808" opacity="0.36" transform="rotate(20.2 946.0 314.0)"/><rect x="949.8" y="313.8" width="14.5" height="14.5" rx="3.5" fill="#080808" opacity="0.36" transform="rotate(29.7 957.0 321.0)"/><rect x="928.8" y="310.8" width="14.5" height="14.5" rx="3.5" fill="#080808" opacity="0.36" transform="rotate(15.2 936.0 318.0)"/><rect x="939.8" y="325.8" width="14.5" height="14.5" rx="3.5" fill="#080808" opacity="0.36" transform="rotate(-13.5 947.0 333.0)"/><rect x="1142.8" y="390.8" width="14.5" height="14.5" rx="3.5" fill="#080808" opacity="0.36" transform="rotate(-15.0 1150.0 398.0)"/><rect x="1143.8" y="406.8" width="14.5" height="14.5" rx="3.5" fill="#080808" opacity="0.36" transform="rotate(-5.3 1151.0 414.0)"/><rect x="950.8" y="342.8" width="14.5" height="14.5" rx="3.5" fill="#080808" opacity="0.36" transform="rotate(-28.7 958.0 350.0)"/></g>
</g>
<rect x="877.7" y="262.5" width="246.4" height="36.2" fill="#fff"/>
<text x="945.8" y="287.7" font-size="18.6" font-weight="bold" fill="#000" text-anchor="start" textLength="110.5" lengthAdjust="spacingAndGlyphs" >3D-Clusters</text>
<rect x="1092.7" y="503.1" width="34.1" height="11" fill="#000"/>
<text x="1074.43" y="539" font-size="22.4" font-weight="bold" fill="#000" text-anchor="start" textLength="71.74" lengthAdjust="spacingAndGlyphs" >50 nm</text>
<rect x="834.1" y="260.5" width="321.6" height="288.2" fill="none" stroke="#0000ff" stroke-width="4.7" rx="1"/>
<path d="M88.0 596.5V853.5H414.2" fill="none" stroke="#000" stroke-width="1.3"/>
<path d="M88.0 853.5h-6M88.0 789.5h-6M88.0 725.5h-6M88.0 661.5h-6M88.0 597.5h-6M88.0 821.5h-3.2M88.0 757.5h-3.2M88.0 693.5h-3.2M88.0 629.5h-3.2M87.8 853.5v6M142.1 853.5v6M196.4 853.5v6M250.7 853.5v6M305.0 853.5v6M359.3 853.5v6M413.6 853.5v6M114.9 853.5v3.2M169.2 853.5v3.2M223.5 853.5v3.2M277.8 853.5v3.2M332.1 853.5v3.2M386.4 853.5v3.2" stroke="#000" stroke-width="1.4" fill="none"/>
<text x="77.4" y="860.0" font-size="22.4" font-weight="bold" fill="#000" text-anchor="end" >0</text>
<text x="77.4" y="796.01" font-size="22.4" font-weight="bold" fill="#000" text-anchor="end" >3</text>
<text x="77.4" y="732.02" font-size="22.4" font-weight="bold" fill="#000" text-anchor="end" >6</text>
<text x="77.4" y="668.03" font-size="22.4" font-weight="bold" fill="#000" text-anchor="end" >9</text>
<text x="77.4" y="604.04" font-size="22.4" font-weight="bold" fill="#000" text-anchor="end" >12</text>
<text x="70.46" y="880.1" font-size="22" font-weight="bold" fill="#000" text-anchor="start" textLength="33.68" lengthAdjust="spacingAndGlyphs" >-15</text>
<text x="124.76" y="880.1" font-size="22" font-weight="bold" fill="#000" text-anchor="start" textLength="34.68" lengthAdjust="spacingAndGlyphs" >-10</text>
<text x="184.76" y="880.1" font-size="22" font-weight="bold" fill="#000" text-anchor="start" textLength="22.58" lengthAdjust="spacingAndGlyphs" >-5</text>
<text x="244.06" y="880.1" font-size="22" font-weight="bold" fill="#000" text-anchor="start" textLength="13.18" lengthAdjust="spacingAndGlyphs" >0</text>
<text x="298.36" y="880.1" font-size="22" font-weight="bold" fill="#000" text-anchor="start" textLength="14.18" lengthAdjust="spacingAndGlyphs" >5</text>
<text x="347.26" y="880.1" font-size="22" font-weight="bold" fill="#000" text-anchor="start" textLength="25.18" lengthAdjust="spacingAndGlyphs" >10</text>
<text x="400.96" y="880.1" font-size="22" font-weight="bold" fill="#000" text-anchor="start" textLength="26.78" lengthAdjust="spacingAndGlyphs" >15</text>
<text x="104.67" y="908" font-size="29" font-weight="bold" fill="#000" text-anchor="start" textLength="308.36" lengthAdjust="spacingAndGlyphs" >Excitation Field (mT)</text>
<text transform="translate(38.6 851.3) rotate(-90)" font-size="24.6" font-weight="bold" textLength="222" lengthAdjust="spacingAndGlyphs">MPS Signal (<tspan font-weight="normal" font-size="21">×</tspan>10<tspan font-size="20" dy="-10.5">−5</tspan><tspan dy="10.5">)</tspan></text>
<path d="M87.9 851.3C91.4 850.2 100.7 847.0 109.1 844.9C117.5 842.8 130.5 840.2 138.3 838.5C146.1 836.8 148.9 836.6 155.7 834.7C162.5 832.9 171.2 830.0 179 827.4C186.8 824.8 194.5 821.6 202.3 819.2C210.1 816.8 218.8 814.6 225.6 813.1C232.4 811.6 238.2 811.1 243.1 810.5C248.0 809.9 250.9 809.8 255 809.7C259.1 809.6 262.5 809.2 267.5 809.7C272.5 810.2 279.2 811.4 285 812.6C290.8 813.9 297.1 815.6 302.4 817.2C307.7 818.8 311.6 820.8 317 822.2C322.4 823.7 329.2 824.5 334.5 825.9C339.8 827.3 343.7 829.0 349 830.6C354.3 832.2 360.7 833.6 366.5 835.3C372.3 836.9 378.2 838.8 384 840.5C389.8 842.2 396.6 844.3 401.5 845.8C406.4 847.2 411.7 848.6 413.7 849.2" fill="none" stroke="#00f" stroke-width="3.2" stroke-linejoin="round" stroke-linecap="round"/>
<path d="M87.9 848.7C91.4 846.9 100.7 841.9 109.1 837.6C117.5 833.3 128.6 827.9 138.3 823C148.0 818.1 159.2 813.1 167.4 808.5C175.7 803.9 181.0 800.3 187.8 795.4C194.6 790.5 201.9 784.1 208.2 779.3C214.5 774.5 219.8 770.6 225.6 766.8C231.4 763.0 238.7 758.9 243.1 756.6C247.5 754.3 248.9 754.1 252 753.2C255.1 752.3 258.6 751.5 261.7 751.3C264.8 751.0 267.0 750.9 270.4 751.7C273.8 752.5 277.6 753.7 282 756.3C286.4 758.9 291.7 763.4 296.6 767.5C301.5 771.6 305.9 776.1 311.2 780.8C316.5 785.4 322.8 790.8 328.6 795.4C334.4 800.0 339.8 804.1 346.1 808.5C352.4 812.9 359.7 817.3 366.5 821.6C373.3 825.9 381.1 830.7 386.9 834.1C392.7 837.5 397.0 839.7 401.5 842C406.0 844.3 411.7 846.8 413.7 847.8" fill="none" stroke="#f00" stroke-width="3.2" stroke-linejoin="round" stroke-linecap="round"/>
<path d="M87.9 850.3C89.5 849.9 94.0 849.4 97.5 847.8C101.0 846.2 106.0 842.7 109.1 840.8C112.2 838.9 113.6 837.7 116 836.5C118.4 835.3 121.2 834.2 123.7 833.5C126.2 832.8 128.6 832.4 131 832C133.4 831.6 135.6 831.5 138.3 831.2C141.0 830.9 144.1 830.7 147 830.2C149.9 829.8 153.3 829.3 155.7 828.5C158.1 827.7 159.6 826.6 161.5 825.5C163.4 824.4 165.4 822.9 167.4 821.6C169.4 820.3 171.6 819.3 173.5 817.8C175.4 816.3 177.4 814.7 179 812.8C180.6 810.9 181.6 808.9 182.8 806.5C184.0 804.1 184.5 802.3 186.3 798.3C188.1 794.3 190.9 787.9 193.6 782.3C196.3 776.7 198.9 771.8 202.3 764.8C205.7 757.8 210.1 748.0 214 740C217.9 732.0 221.7 723.2 225.6 716.7C229.5 710.2 234.3 704.2 237.3 700.7C240.3 697.2 241.6 697.2 243.5 696C245.4 694.8 247.0 694.0 248.9 693.4C250.8 692.8 253.0 692.5 254.8 692.5C256.7 692.5 258.4 693.0 260 693.6C261.6 694.2 261.9 693.7 264.6 696.2C267.3 698.7 272.3 703.7 276.2 708.4C280.1 713.1 284.0 719.0 287.9 724.4C291.8 729.8 295.6 735.5 299.5 741C303.4 746.5 308.3 753.3 311.2 757.5C314.1 761.7 315.4 764.1 317 766.2C318.6 768.3 319.6 768.9 321 770.2C322.4 771.5 324.0 772.6 325.7 773.8C327.4 775.0 329.3 776.0 331 777.2C332.7 778.4 334.2 779.3 335.9 780.8C337.6 782.3 339.3 784.4 341 786C342.7 787.6 344.5 789.4 346.1 790.6C347.7 791.9 349.0 792.5 350.5 793.5C352.0 794.5 353.5 795.5 354.9 796.8C356.3 798.1 357.6 799.8 359 801.5C360.4 803.2 360.9 803.9 363.6 807C366.3 810.1 371.4 816.0 375.3 820.1C379.2 824.2 383.5 828.6 386.9 831.8C390.3 834.9 392.8 837.0 395.6 839C398.5 841.0 401.0 842.0 404 843.5C407.0 845.0 412.1 847.1 413.7 847.8" fill="none" stroke="#000" stroke-width="3.2" stroke-linejoin="round" stroke-linecap="round"/>
<path d="M87.9 846.3C89.1 845.7 92.4 844.0 95 842.5C97.6 841.0 99.5 840.6 103.3 837.6C107.1 834.6 113.1 829.4 117.9 824.5C122.8 819.6 126.1 815.0 132.4 808.5C138.7 802.0 149.9 791.3 155.7 785.2C161.5 779.1 163.5 777.0 167.4 772.1C171.3 767.2 175.1 762.1 179 756C182.9 749.9 186.8 743.4 190.7 735.6C194.6 727.8 198.4 718.6 202.3 709.4C206.2 700.2 210.1 690.2 214 680.3C217.9 670.3 221.7 659.2 225.6 649.7C229.5 640.2 234.3 629.4 237.3 623.5C240.3 617.6 241.6 616.9 243.5 614.5C245.4 612.1 247.0 610.4 248.9 608.9C250.8 607.4 252.9 606.3 255 605.5C257.1 604.7 259.1 604.2 261.2 604.3C263.3 604.4 265.5 605.1 267.5 606.3C269.5 607.5 270.4 607.3 273.3 611.3C276.2 615.3 281.1 623.0 285 630.3C288.9 637.6 292.7 646.4 296.6 655.2C300.5 664.0 304.4 673.7 308.3 683.2C312.2 692.7 316.0 702.6 319.9 712.3C323.8 722.0 327.7 733.0 331.6 741.5C335.5 750.0 339.3 756.8 343.2 763.3C347.1 769.8 351.0 775.7 354.9 780.8C358.8 785.9 362.6 789.5 366.5 793.9C370.4 798.3 374.3 802.6 378.2 807C382.1 811.4 385.9 815.5 389.8 820.1C393.7 824.7 397.5 830.2 401.5 834.7C405.5 839.2 411.7 844.9 413.7 846.9" fill="none" stroke="#008000" stroke-width="3.2" stroke-linejoin="round" stroke-linecap="round"/>
<path d="M91.6 589.9H126.8" stroke="#000" stroke-width="3.2" stroke-linecap="round"/>
<text x="130.38" y="594.8000000000001" font-size="14.6" font-weight="bold" fill="#000" text-anchor="start" textLength="26.34" lengthAdjust="spacingAndGlyphs" >Std</text>
<path d="M91.6 609.1999999999999H126.8" stroke="#f00" stroke-width="3.2" stroke-linecap="round"/>
<text x="130.38" y="614.1" font-size="14.6" font-weight="bold" fill="#000" text-anchor="start" textLength="16.14" lengthAdjust="spacingAndGlyphs" >Si</text>
<path d="M91.6 628.8H126.8" stroke="#008000" stroke-width="3.2" stroke-linecap="round"/>
<text x="130.38" y="633.7" font-size="14.6" font-weight="bold" fill="#000" text-anchor="start" textLength="41.34" lengthAdjust="spacingAndGlyphs" >Di/Tri</text>
<path d="M91.6 647.4H126.8" stroke="#00f" stroke-width="3.2" stroke-linecap="round"/>
<text x="135.28" y="652.3000000000001" font-size="14.6" font-weight="bold" fill="#000" text-anchor="start" textLength="87.94" lengthAdjust="spacingAndGlyphs" >3D-Clusters</text>
<text x="314.3" y="591.4" font-size="24.3" font-weight="bold" fill="#000" text-anchor="start" textLength="50.4" lengthAdjust="spacingAndGlyphs" >(B1)</text>
<path d="M512.9 587.4V859.2H825.4" fill="none" stroke="#333" stroke-width="1.1"/>
<path d="M512.9 859.2h-5.2M512.9 779.3h-5.2M512.9 699.4h-5.2M512.9 619.5h-5.2M512.9 819.2h-2.6M512.9 739.4h-2.6M512.9 659.5h-2.6M551.4 859.2v4.5M629.5 859.2v4.5M706.9 859.2v4.5M784.4 859.2v4.5M590.6 859.2v2.4M669 859.2v2.4M746.7 859.2v2.4M825.4 859.2v2.4" stroke="#333" stroke-width="1.1" fill="none"/>
<rect x="520.1" y="699.4" width="62.8" height="159.8" fill="#000" stroke="#222" stroke-width="0.6"/>
<rect x="598.6" y="756.9" width="62.3" height="102.3" fill="#f00" stroke="#222" stroke-width="0.6"/>
<rect x="676.3" y="611.0" width="62.4" height="248.2" fill="#008000" stroke="#222" stroke-width="0.6"/>
<rect x="754.2" y="815.3" width="47.9" height="43.9" fill="#00f" stroke="#222" stroke-width="0.6"/>
<text x="474.19" y="865.8000000000001" font-size="23" font-weight="bold" fill="#000" text-anchor="start" textLength="31.62" lengthAdjust="spacingAndGlyphs" >0.0</text>
<text x="474.19" y="785.9000000000001" font-size="23" font-weight="bold" fill="#000" text-anchor="start" textLength="31.62" lengthAdjust="spacingAndGlyphs" >0.5</text>
<text x="474.19" y="706.0000000000001" font-size="23" font-weight="bold" fill="#000" text-anchor="start" textLength="31.62" lengthAdjust="spacingAndGlyphs" >1.0</text>
<text x="474.19" y="626.1" font-size="23" font-weight="bold" fill="#000" text-anchor="start" textLength="31.62" lengthAdjust="spacingAndGlyphs" >1.5</text>
<text x="530.72" y="884.8" font-size="22.5" font-weight="bold" fill="#000" text-anchor="start" textLength="35.15" lengthAdjust="spacingAndGlyphs" >Std</text>
<text x="619.56" y="882.9" font-size="22" font-weight="bold" fill="#000" text-anchor="start" textLength="21.98" lengthAdjust="spacingAndGlyphs" >Si</text>
<text x="677.86" y="884.8" font-size="22" font-weight="bold" fill="#000" text-anchor="start" textLength="55.48" lengthAdjust="spacingAndGlyphs" >Di/Tri</text>
<text x="745.41" y="884.9" font-size="18.4" font-weight="bold" fill="#000" text-anchor="start" textLength="108.18" lengthAdjust="spacingAndGlyphs" >3D-Clusters</text>
<text transform="translate(440.4 831.8) rotate(-90)" font-size="25.8" font-weight="bold" textLength="221.8" lengthAdjust="spacingAndGlyphs">Normalized Signal</text>
<text transform="translate(467.9 754.4) rotate(-90)" font-size="23.7" font-weight="normal" stroke="#000" stroke-width="0.95" stroke-linejoin="round" textLength="62" lengthAdjust="spacingAndGlyphs">(SNR)</text>
<text x="733.1" y="591.9" font-size="24.3" font-weight="bold" fill="#000" text-anchor="start" textLength="50.2" lengthAdjust="spacingAndGlyphs" >(B2)</text>
<path d="M884.6 604.2V856.4H1189.6" fill="none" stroke="#333" stroke-width="1.1"/>
<path d="M884.6 856.4h-4.4M884.6 806.0h-4.4M884.6 755.5h-4.4M884.6 705.1h-4.4M884.6 654.6h-4.4M884.6 604.2h-4.4M884.6 831.2h-2.2M884.6 780.7h-2.2M884.6 730.3h-2.2M884.6 679.9h-2.2M884.6 629.4h-2.2M935.2 856.4v4.2M1037 856.4v4.2M1138.5 856.4v4.2M986 856.4v2.2M1087.7 856.4v2.2M1189.6 856.4v2.2" stroke="#333" stroke-width="1.1" fill="none"/>
<rect x="894.4" y="853.8" width="26.9" height="2.6" fill="#f00" stroke="#222" stroke-width="0.8"/>
<rect x="921.3" y="852.8" width="27.7" height="3.6" fill="#008000" stroke="#222" stroke-width="0.8"/>
<rect x="949" y="854.5" width="27.8" height="1.9" fill="#00f" stroke="#222" stroke-width="0.8"/>
<rect x="996.6" y="679.1" width="26.8" height="177.3" fill="#f00" stroke="#222" stroke-width="0.8"/>
<rect x="1023.4" y="642.2" width="27.2" height="214.2" fill="#008000" stroke="#222" stroke-width="0.8"/>
<rect x="1050.6" y="654.6" width="27.6" height="201.8" fill="#00f" stroke="#222" stroke-width="0.8"/>
<rect x="1097.5" y="785.6" width="27.1" height="70.8" fill="#f00" stroke="#222" stroke-width="0.8"/>
<rect x="1124.6" y="785.6" width="27.5" height="70.8" fill="#008000" stroke="#222" stroke-width="0.8"/>
<rect x="1152.1" y="738.4" width="27.2" height="118.0" fill="#00f" stroke="#222" stroke-width="0.8"/>
<path d="M1037 639.2V645.8M1034 639.2h6M1063.7 645.6V664.8M1061.2 645.6h5M1009.8 677.2V681" stroke="#555" stroke-width="0.9" fill="none"/>
<path d="M963.1 674.2V679.8" stroke="#111" stroke-width="1.3"/>
<text x="876.2" y="862.3" font-size="21.3" font-weight="bold" fill="#000" text-anchor="end" >0</text>
<text x="876.2" y="811.86" font-size="21.3" font-weight="bold" fill="#000" text-anchor="end" >50</text>
<text x="876.2" y="761.42" font-size="21.3" font-weight="bold" fill="#000" text-anchor="end" >100</text>
<text x="876.2" y="710.9799999999999" font-size="21.3" font-weight="bold" fill="#000" text-anchor="end" >150</text>
<text x="876.2" y="660.54" font-size="21.3" font-weight="bold" fill="#000" text-anchor="end" >200</text>
<text x="876.2" y="610.1" font-size="21.3" font-weight="bold" fill="#000" text-anchor="end" >250</text>
<rect x="890.4" y="605.3" width="29.6" height="14.9" fill="#f00" stroke="#555" stroke-width="0.8"/>
<text x="922.79" y="617.35" font-size="13" font-weight="bold" fill="#000" text-anchor="start" textLength="14.22" lengthAdjust="spacingAndGlyphs" >Si</text>
<rect x="890.4" y="622.4" width="29.6" height="14.7" fill="#008000" stroke="#555" stroke-width="0.8"/>
<text x="923.29" y="634.35" font-size="13" font-weight="bold" fill="#000" text-anchor="start" textLength="34.82" lengthAdjust="spacingAndGlyphs" >Di/Tri</text>
<rect x="890.4" y="639.1" width="29.6" height="15.0" fill="#00f" stroke="#555" stroke-width="0.8"/>
<text x="925.88" y="651.8000000000001" font-size="14.6" font-weight="bold" fill="#000" text-anchor="start" textLength="86.04" lengthAdjust="spacingAndGlyphs" >3D-Clusters</text>
<text transform="translate(829.8 813.6) rotate(-90)" font-size="19.5" font-weight="bold" textLength="169" lengthAdjust="spacingAndGlyphs"><tspan font-style="italic" font-size="21">r</tspan><tspan font-size="12.5" font-style="italic" dy="4.5">1</tspan><tspan font-style="italic" font-size="21" dy="-4.5">r</tspan><tspan font-size="12.5" dy="4.5">2</tspan><tspan dy="-4.5"> (mM</tspan><tspan font-size="12" dy="-7">−1</tspan><tspan dy="7">. s</tspan><tspan font-size="12" dy="-7">−1</tspan><tspan dy="7">)</tspan><tspan font-size="12" dy="4.5">Fe</tspan></text>
<text x="932.6" y="890.9" font-size="23.5" font-weight="bold" font-style="italic"><tspan>r</tspan><tspan font-size="15.5" dy="6.6">1</tspan></text>
<text x="1033.2" y="890.9" font-size="23.5" font-weight="bold" font-style="italic"><tspan>r</tspan><tspan font-size="15.5" dy="6.6">2</tspan></text>
<text x="1109.3" y="890.9" font-size="23.5" font-weight="bold" font-style="italic" textLength="47" lengthAdjust="spacingAndGlyphs"><tspan>r</tspan><tspan font-size="15.5" dy="6.6">2</tspan><tspan dy="-6.6">/r</tspan><tspan font-size="15.5" dy="6.6">1</tspan></text>
<text x="1112.68" y="592.9" font-size="24.6" font-weight="bold" fill="#000" text-anchor="start" textLength="36.44" lengthAdjust="spacingAndGlyphs" >(C)</text>
</svg></body></html>
